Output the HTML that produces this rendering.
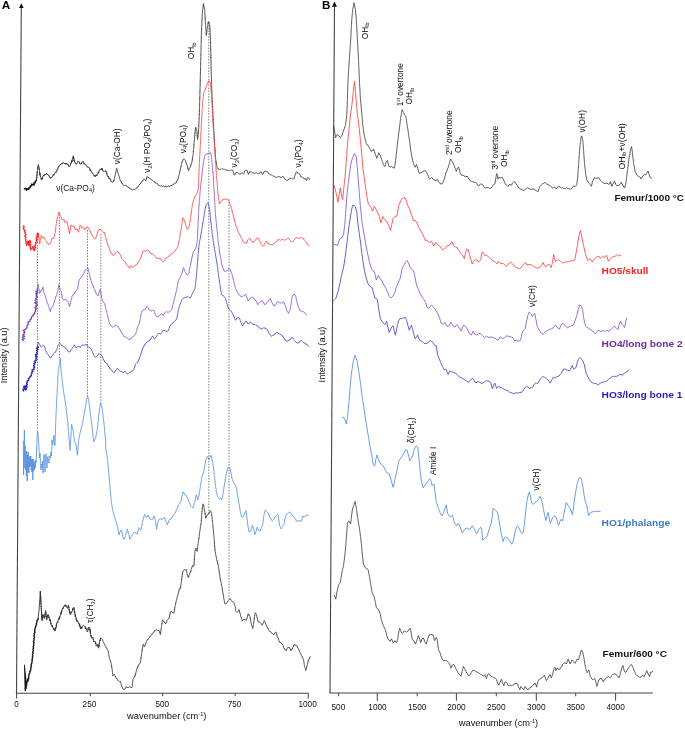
<!DOCTYPE html>
<html><head><meta charset="utf-8"><title>Spectra</title>
<style>html,body{margin:0;padding:0;background:#fff;}body{width:685px;height:729px;overflow:hidden;font-family:"Liberation Sans",sans-serif;}svg{display:block;will-change:transform;}</style>
</head><body>
<svg width="685" height="729" viewBox="0 0 685 729">
<rect width="100%" height="100%" fill="#fff"/>
<line x1="37.5" y1="239.0" x2="37.5" y2="430.0" stroke="#6e6e6e" stroke-width="0.9" stroke-dasharray="1.5 1.35"/>
<line x1="59.4" y1="214.0" x2="59.4" y2="358.0" stroke="#6e6e6e" stroke-width="0.9" stroke-dasharray="1.5 1.35"/>
<line x1="87.5" y1="230.0" x2="87.5" y2="396.0" stroke="#6e6e6e" stroke-width="0.9" stroke-dasharray="1.5 1.35"/>
<line x1="100.9" y1="234.0" x2="100.9" y2="402.0" stroke="#6e6e6e" stroke-width="0.9" stroke-dasharray="1.5 1.35"/>
<line x1="208.8" y1="22.0" x2="208.8" y2="514.0" stroke="#6e6e6e" stroke-width="0.9" stroke-dasharray="1.5 1.35"/>
<line x1="229.0" y1="199.0" x2="229.0" y2="598.0" stroke="#6e6e6e" stroke-width="0.9" stroke-dasharray="1.5 1.35"/>
<line x1="21.3" y1="6" x2="16.5" y2="693.2" stroke="#444" stroke-width="1.1"/>
<path d="M21.35,3.3 L23.7,7.9 L18.9,7.9 Z" fill="#111"/>
<line x1="16" y1="693.2" x2="308.5" y2="693.2" stroke="#444" stroke-width="1.1"/>
<line x1="16.6" y1="693" x2="16.6" y2="698.6" stroke="#444" stroke-width="1"/>
<line x1="90.3" y1="693" x2="90.3" y2="696.2" stroke="#444" stroke-width="1"/>
<line x1="162.6" y1="693" x2="162.6" y2="696.2" stroke="#444" stroke-width="1"/>
<line x1="235.1" y1="693" x2="235.1" y2="696.2" stroke="#444" stroke-width="1"/>
<line x1="308.2" y1="693" x2="308.2" y2="698.6" stroke="#444" stroke-width="1"/>
<line x1="334.5" y1="5" x2="330.0" y2="693" stroke="#444" stroke-width="1.1"/>
<path d="M334.5,1.6 L337.0,6.7 L332.0,6.7 Z" fill="#111"/>
<line x1="329.5" y1="693" x2="652.8" y2="693" stroke="#444" stroke-width="1.1"/>
<line x1="338.6" y1="693" x2="338.6" y2="696.2" stroke="#444" stroke-width="1"/>
<line x1="377.3" y1="693" x2="377.3" y2="700.8" stroke="#444" stroke-width="1"/>
<line x1="417.2" y1="693" x2="417.2" y2="696.2" stroke="#444" stroke-width="1"/>
<line x1="456.4" y1="693" x2="456.4" y2="700.8" stroke="#444" stroke-width="1"/>
<line x1="496.3" y1="693" x2="496.3" y2="696.2" stroke="#444" stroke-width="1"/>
<line x1="536.3" y1="693" x2="536.3" y2="700.8" stroke="#444" stroke-width="1"/>
<line x1="575.7" y1="693" x2="575.7" y2="696.2" stroke="#444" stroke-width="1"/>
<line x1="615.6" y1="693" x2="615.6" y2="700.8" stroke="#444" stroke-width="1"/>
<polyline points="24.4,188.7 26.0,188.6 26.6,190.1 26.7,188.7 28.7,189.3 28.8,188.0 30.1,187.7 30.2,185.9 31.7,185.8 31.8,184.1 34.1,185.0 34.0,183.0 35.3,182.8 35.2,181.4 36.4,180.7" fill="none" stroke="#111" stroke-width="1.50" stroke-linejoin="round" stroke-linecap="round" />
<polyline points="36.4,180.7 36.5,178.9 36.6,179.9 36.7,177.2 36.8,178.1 36.9,175.5 37.0,176.1 37.0,173.9 37.1,174.6 37.2,171.8 37.3,173.0 37.4,170.6 37.5,170.4 37.6,168.8 37.8,169.4 37.9,167.0 38.0,167.6 38.1,165.6 38.3,166.2 38.4,164.6 38.5,165.9 38.7,165.8 38.8,167.7 39.0,167.3 39.1,169.3 39.3,168.6 39.4,170.4 39.5,170.6 39.6,172.8 39.8,172.1 39.9,174.9 40.0,173.4 40.1,175.9 40.3,175.2 40.4,177.0 40.8,176.9 41.1,179.2 41.5,178.7 41.9,179.9 42.2,178.1 42.5,179.0 42.8,176.1 43.1,176.3 43.7,175.1 44.2,175.9 44.8,174.1 45.8,174.7 46.7,173.1 47.3,174.8 47.9,174.2 48.5,175.5 49.0,175.4 49.5,177.5 49.9,177.3 50.4,178.5 51.0,177.2 51.5,177.9 52.1,176.3 52.7,176.3 53.3,174.1 53.8,175.4 54.4,173.5 55.0,173.4 55.5,171.9 56.1,172.6 56.7,170.1 57.2,170.4 57.5,168.8 57.8,169.4 58.1,167.2 58.4,167.4 58.7,166.1 59.4,166.2 60.2,164.5 60.9,164.6 61.6,163.1 62.4,164.1 63.1,162.4 64.2,163.7 65.3,163.1 66.0,164.6 66.7,163.0 67.4,164.6 68.1,164.1 68.9,166.8 69.6,166.1 70.1,166.1 70.6,163.4 71.1,163.9 71.3,162.0 71.6,162.9 71.8,160.2 72.1,161.7 72.3,158.9 72.6,158.8 72.8,157.4 73.1,157.7 73.3,155.8 73.4,157.4 73.6,157.0 73.7,159.1 73.9,158.1 74.0,161.2 74.2,159.9 74.3,161.7 74.9,161.7 75.6,164.0 76.2,163.9 76.9,163.8 77.7,161.3 78.4,161.7 79.1,161.4 79.9,164.0 80.6,163.9 81.3,164.3 82.1,161.7 82.8,161.7 83.3,161.4 83.9,164.2 84.5,163.4 85.0,164.6 85.7,164.3 86.5,166.2 87.2,166.1 87.9,167.7 88.6,167.0 89.3,168.2 89.7,168.1 90.2,170.8 90.6,169.4 91.1,171.9 91.5,171.9 92.0,173.3 92.6,172.8 93.2,174.6 93.7,174.8 94.3,176.5 95.0,175.0 95.6,176.6 96.2,174.7 96.8,175.9 97.4,174.1 97.8,174.1 98.3,171.9 98.7,173.0 99.2,170.3 99.6,170.4 100.2,168.9 100.9,169.6 101.5,168.2 101.9,170.1 102.3,168.5 102.8,171.2 103.2,171.2 104.3,171.5 105.4,170.4 105.8,171.8 106.1,171.2 106.5,173.5 106.9,172.8 107.2,175.8 107.6,175.5 108.0,177.0 108.5,176.1 108.9,178.5 109.4,177.9 109.8,179.2 110.5,178.8 111.1,181.8 111.8,181.5 112.7,182.3 113.6,181.5" fill="none" stroke="#2e2e2e" stroke-width="0.90" stroke-linejoin="round" stroke-linecap="round" />
<polyline points="113.6,181.5 113.8,180.0 114.1,180.3 114.3,178.2 114.5,178.4 114.8,176.4 115.0,176.4 115.3,174.6 115.5,174.2 115.7,172.5 115.9,172.8 116.0,170.8 116.2,170.5 116.4,168.8 116.6,168.3 116.9,168.6 117.2,170.4 117.4,170.6 117.7,172.4 118.0,172.8 118.3,174.0 118.5,174.3 118.8,175.9 119.1,176.1 119.4,177.7 119.7,177.7 119.9,179.7 120.2,180.1 120.7,181.4 121.2,181.3 121.7,183.4 122.1,182.8 122.6,184.7 123.1,185.2 124.1,185.8 125.1,185.0 126.1,185.6 126.8,185.9 127.5,187.1 128.3,186.9 129.0,188.1 129.9,187.9 130.8,189.4 131.7,189.2 132.6,190.0 133.6,189.1 134.5,189.9 135.5,188.8 136.2,188.6 137.0,187.0 137.8,187.3 138.5,185.9 139.1,185.5 139.7,184.2 140.2,184.1 140.8,182.7 141.4,182.3 142.1,180.8 142.9,181.1 143.6,179.4 144.3,179.3 145.1,179.7 145.8,180.8 146.1,179.5 146.4,179.5 146.6,177.5 146.9,177.6 147.2,176.4 147.9,177.6 148.7,177.5 149.4,178.6 150.5,178.7 151.6,180.1 152.7,180.4 153.8,181.5 154.5,181.6 155.2,183.2 156.0,182.7 156.7,183.7 157.7,183.7 158.6,185.6 159.6,185.6 160.5,186.1 161.4,185.3 162.4,186.8 163.3,186.2 164.2,186.8 165.1,185.7 166.0,187.0 166.9,186.6 167.8,186.8 168.7,185.5 169.5,186.7 170.4,185.4 171.3,185.6 172.2,184.9 173.2,185.2 174.1,183.5 175.0,183.7 175.6,182.7 176.2,182.8 176.8,180.8 177.4,180.8 177.7,179.2 177.9,179.4 178.2,177.5 178.5,177.6 178.8,175.5 179.0,175.5 179.3,174.2 179.5,173.9 179.7,171.7 179.9,171.9 180.1,170.1 180.3,170.2 180.5,168.1 180.7,168.1 180.9,166.2 181.1,166.5 181.3,164.6 181.5,164.0 181.8,162.6 182.1,162.7 182.4,161.1 182.7,161.1 183.0,159.4 183.3,158.9 184.2,159.1 185.2,160.4 185.5,160.6 185.8,162.6 186.1,162.6 186.5,164.2 186.8,164.3 187.1,165.5 187.4,166.1 187.7,168.2 187.9,167.9 188.2,169.9 188.5,170.6 189.0,170.2 189.5,168.3 190.0,167.7 190.3,166.4 190.6,166.7 190.9,164.6 191.2,164.8 191.5,163.0 191.8,162.6 192.0,161.1 192.1,161.4 192.3,158.9 192.4,159.2 192.6,157.1 192.7,157.1 192.9,155.4 193.0,155.1 193.2,153.8 193.3,153.2 193.3,151.3 193.4,151.8 193.5,149.9 193.6,149.7 193.7,147.8 193.7,147.9 193.8,146.2 193.9,146.3 193.9,144.0 194.0,144.4 194.1,142.4 194.2,142.4 194.2,140.5 194.3,140.7 194.4,139.2 194.5,138.9 194.6,136.7 194.7,136.8 194.8,135.0 194.9,135.2 195.0,132.9 195.0,133.2 195.1,131.2 195.2,131.4 195.3,129.2 195.4,129.1 195.5,127.3 195.6,127.0 195.9,127.6 196.2,129.7 196.6,129.7 196.9,131.2 197.0,131.6 197.0,133.7 197.1,133.3 197.2,135.5 197.2,135.2 197.3,137.3 197.4,137.3 197.4,139.0 197.5,139.5 197.7,139.0 197.8,137.3 198.0,137.2 198.1,135.2 198.3,134.8 198.4,133.6 198.4,133.5 198.5,131.5 198.5,131.7 198.6,129.4 198.6,129.5 198.7,127.9 198.7,127.9 198.8,125.7 198.8,126.0 198.8,124.0 198.9,124.0 198.9,121.9 199.0,121.7 199.0,120.2 199.1,120.3 199.1,118.3 199.1,118.6 199.2,116.6 199.2,116.5 199.2,114.5 199.3,114.9 199.3,112.9 199.3,112.9 199.4,110.8 199.4,111.2 199.4,109.4 199.5,109.0 199.5,107.5 199.5,107.4 199.6,105.3 199.6,105.0 199.6,103.4 199.6,103.5 199.7,101.8 199.7,101.7 199.7,99.7 199.7,99.9 199.8,97.9 199.8,98.3 199.8,96.3 199.8,96.5 199.9,94.7 199.9,94.6 199.9,92.6 199.9,93.0 199.9,91.1 200.0,91.2 200.0,89.2 200.0,89.3 200.0,87.4 200.1,87.1 200.1,85.4 200.1,85.7 200.1,83.4 200.2,83.6 200.2,81.8 200.2,82.0 200.2,79.9 200.3,80.2 200.3,78.2 200.3,78.1 200.3,76.1 200.3,76.2 200.4,74.3 200.4,74.4 200.4,72.5 200.4,72.9 200.5,71.1 200.5,71.1 200.5,68.8 200.5,69.2 200.6,67.3 200.6,67.2 200.6,65.9 200.6,65.3 200.6,63.5 200.7,63.7 200.7,62.0 200.7,61.8 200.7,60.0 200.8,59.9 200.8,58.1 200.8,58.2 200.8,56.5 200.8,56.1 200.9,54.3 200.9,54.7 200.9,52.8 200.9,52.8 201.0,50.9 201.0,50.9 201.0,49.1 201.0,48.9 201.0,46.9 201.1,47.0 201.1,45.5 201.1,45.3 201.1,43.7 201.2,43.4 201.2,41.7 201.2,41.9 201.2,39.9 201.2,39.9 201.3,37.8 201.3,38.1 201.3,36.1 201.3,36.1 201.4,34.3 201.4,34.4 201.4,33.0 201.4,32.4 201.5,30.6 201.5,30.7 201.6,28.9 201.6,29.1 201.6,27.3 201.7,27.0 201.7,25.2 201.8,25.4 201.8,23.5 201.9,23.5 201.9,21.8 201.9,21.8 202.0,19.9 202.0,20.1 202.1,18.2 202.1,18.3 202.1,16.3 202.2,16.2 202.2,14.3 202.3,14.4 202.3,13.2 202.4,13.0 202.5,10.6 202.6,10.6 202.7,9.1 202.9,8.9 203.0,7.0 203.1,7.1 203.2,5.2 203.3,5.1 203.4,3.6 203.6,5.2 203.8,4.9 204.0,6.9 204.1,6.6 204.3,8.5 204.5,8.7 204.7,9.9 204.8,10.5 204.8,12.2 204.8,12.3 204.9,14.0 204.9,13.9 205.0,15.9 205.0,16.1 205.1,18.0 205.2,17.6 205.2,19.7 205.2,19.5 205.3,21.4 205.3,21.5 205.4,23.3 205.4,23.1 205.5,24.7 205.6,25.3 205.7,27.0 205.7,27.3 205.8,29.1 205.9,29.2 206.0,30.8 206.1,31.0 206.2,33.2 206.2,33.0 206.3,34.9 206.4,35.4 206.5,34.8 206.6,33.2 206.7,33.0 206.9,31.3 207.0,31.4 207.1,29.1 207.2,28.8 207.3,27.5 207.5,27.6 207.7,25.4 207.8,25.4 207.9,23.5 208.1,23.9 208.2,21.8 208.4,21.4 208.8,22.0 209.3,24.1 209.7,24.7 209.7,26.1 209.8,26.0 209.8,27.9 209.9,27.9 209.9,30.0 210.0,29.5 210.0,31.6 210.1,31.4 210.1,33.6 210.1,33.3 210.2,35.3 210.2,35.1 210.3,37.0 210.3,37.1 210.4,38.8 210.4,38.7 210.5,40.6 210.5,41.2 210.5,42.7 210.5,42.4 210.6,44.4 210.6,44.4 210.6,46.4 210.6,46.4 210.7,48.3 210.7,48.2 210.7,50.0 210.7,49.6 210.7,51.7 210.8,51.7 210.8,53.4 210.8,53.5 210.8,55.6 210.9,55.2 210.9,57.5 210.9,57.0 210.9,58.9 210.9,59.0 211.0,60.8 211.0,60.6 211.0,62.8 211.0,62.7 211.1,64.6 211.1,64.5 211.1,66.3 211.1,66.3 211.1,68.1 211.2,68.0 211.2,70.0 211.2,70.2 211.2,71.7 211.3,71.7 211.3,73.8 211.3,74.2 211.3,75.8 211.4,75.5 211.4,77.4 211.4,77.6 211.4,79.0 211.5,79.2 211.5,81.0 211.5,81.1 211.6,82.8 211.6,83.1 211.6,84.7 211.7,84.9 211.7,86.7 211.7,86.4 211.7,88.3 211.8,88.5 211.8,90.0 211.8,90.0 211.9,92.2 211.9,92.0 211.9,93.9 212.0,93.9 212.0,95.6 212.0,95.6 212.0,97.5 212.1,97.6 212.1,98.9 212.2,99.1 212.2,101.5 212.3,101.2 212.3,103.0 212.4,103.2 212.4,104.9 212.5,104.7 212.5,107.0 212.6,106.6 212.6,108.6 212.7,108.7 212.7,110.3 212.8,110.3 212.8,112.5 212.9,112.2 212.9,114.1 213.0,114.3 213.0,116.1 213.1,116.5 213.1,117.8 213.2,117.9 213.2,120.0 213.3,119.5 213.3,121.6 213.4,121.5 213.4,123.5 213.5,123.2 213.5,125.3 213.6,124.9 213.6,126.8 213.7,127.1 213.7,128.9 213.8,129.1 213.8,130.8 213.9,130.8 213.9,132.8 214.0,132.7 214.0,134.5 214.1,134.5 214.1,136.1 214.2,136.3 214.2,137.9 214.3,138.1 214.3,139.8 214.4,139.6 214.4,141.2 214.5,141.7 214.5,143.8 214.6,143.2 214.6,145.4 214.7,145.4 214.8,147.0 214.8,147.1 214.9,149.2 214.9,148.8 215.0,151.0 215.1,150.7 215.1,152.5 215.2,152.5 215.3,154.5 215.3,154.6 215.4,156.3 215.4,156.1 215.5,157.7 215.6,158.0 215.8,159.9 215.9,159.9 216.0,162.0 216.2,161.9 216.3,163.5 216.4,163.4 216.6,165.2 216.7,165.9 217.1,167.4 217.6,167.8 218.0,169.2 218.8,169.2 219.7,170.0 220.5,169.2 221.3,169.2 222.1,168.4 223.3,169.3 224.6,169.2 225.8,170.0 227.1,170.0 228.2,170.7 229.3,170.2 230.4,170.9 231.4,170.1 232.5,170.0 232.8,170.7 233.2,172.4 233.5,172.7 233.9,174.6 234.2,175.0 234.9,174.7 235.5,172.8 236.2,172.5 237.4,172.3 238.6,173.3 240.0,174.4 240.9,173.8 241.8,172.6 242.7,173.5 243.5,173.8 244.1,173.6 244.7,171.2 245.3,170.9 246.2,170.0 247.0,170.3 247.3,170.7 247.7,172.9 248.1,173.0 248.4,174.4 248.8,172.9 249.2,173.0 249.6,171.5 250.6,172.0 251.7,172.0 252.8,172.9 254.0,173.2 255.2,173.2 256.4,172.6 257.5,173.5 258.7,173.8 259.5,173.6 260.2,172.1 261.0,172.0 261.6,172.3 262.2,174.0 262.8,174.4 263.4,173.8 263.9,171.7 264.5,171.5 265.7,171.1 266.9,171.5 267.7,171.6 268.4,173.5 269.2,173.8 270.4,174.8 271.5,175.0 272.7,175.9 273.9,176.1 275.0,177.0 276.2,177.3 277.4,177.4 278.5,176.1 279.3,177.0 280.1,176.7 280.9,177.9 282.0,176.8 283.2,176.7 283.8,177.1 284.4,178.7 285.0,179.0 285.9,180.1 286.7,180.2 287.9,180.1 289.1,179.0 290.2,178.7 291.4,177.9 292.5,178.9 293.7,179.0 294.1,178.6 294.5,176.6 294.9,176.1 295.2,174.3 295.6,174.3 295.9,172.7 296.3,172.0 297.1,172.0 297.8,173.2 298.7,173.1 299.6,174.4 300.1,174.9 300.7,176.7 301.6,176.6 302.5,177.9 303.4,177.8 304.2,179.0 305.4,178.5 306.0,180.0 306.6,180.2 307.0,179.8 307.3,177.9 307.7,177.3 308.9,178.5 309.5,179.6" fill="none" stroke="#3a3a3a" stroke-width="0.85" stroke-linejoin="round" stroke-linecap="round" />
<polyline points="23.2,225.8 24.2,226.6 23.1,227.9 24.1,228.7 23.7,229.8 25.1,230.6 24.3,231.8 25.5,232.7 25.1,233.8 26.1,234.9 24.7,236.2 26.0,237.2 25.3,238.5 25.8,239.6 25.5,240.8 26.8,241.9 25.9,243.2 26.9,244.3 26.6,245.5 26.3,244.2 27.7,243.4 27.3,242.1 28.0,241.1 28.7,242.1 28.2,243.4 29.5,244.2 29.1,245.5 28.8,244.4 30.0,243.5 29.0,242.3 30.6,241.6 29.9,240.4 29.5,241.5 30.8,242.5 29.5,243.6 30.8,244.6 29.7,245.7 30.7,246.7 30.0,247.8 31.1,248.8 30.5,249.9 31.7,248.4 32.8,247.6 33.1,246.2 32.7,247.5 34.3,248.2 33.2,249.7 34.3,250.6 35.1,249.7 34.3,248.5 35.7,247.7 34.5,246.4 35.3,245.5 35.2,244.4 36.2,243.6 35.5,242.4 36.8,241.6 36.4,240.4 37.0,239.4 35.9,238.2 37.5,237.4 36.6,236.2 38.0,235.3 36.8,234.1 37.5,233.1 38.7,234.0 38.0,235.6 38.7,236.7" fill="none" stroke="#ff2a2a" stroke-width="1.30" stroke-linejoin="round" stroke-linecap="round" />
<polyline points="38.7,236.7 38.8,237.1 39.0,239.0 39.1,239.0 39.2,240.8 39.3,240.8 39.5,242.4 39.6,242.7 39.7,244.0 39.9,242.4 40.0,242.5 40.2,240.8 40.4,240.4 40.5,238.8 40.7,238.5 40.9,236.8 41.0,236.5 41.2,235.3 41.7,236.7 42.1,236.8 42.6,238.2 44.1,237.4 44.6,238.7 45.0,239.1 45.5,240.4 46.2,241.0 47.0,242.6 47.8,243.3 48.5,244.7 49.2,243.6 50.0,243.9 50.7,242.6 51.0,242.0 51.3,240.3 51.5,240.3 51.8,238.7 52.1,238.2 53.6,238.9 53.9,238.1 54.2,236.4 54.4,236.3 54.7,234.3 55.0,233.8 55.1,232.7 55.2,232.5 55.3,230.7 55.5,230.7 55.6,228.9 55.7,228.8 55.8,227.3 55.9,227.1 56.0,225.3 56.2,225.0 56.3,223.7 56.4,223.3 56.5,222.1 56.7,221.6 56.9,219.6 57.1,219.5 57.3,217.7 57.5,217.7 57.7,216.3 58.0,216.0 58.3,214.2 58.5,214.0 58.8,212.3 59.1,211.9 59.4,212.4 59.7,214.0 60.0,214.2 60.3,215.6 60.6,216.3 61.0,217.5 61.5,217.8 61.9,219.2 62.3,219.9 63.8,219.2 64.2,219.7 64.5,221.5 64.9,221.4 65.3,222.8 66.0,221.6 66.7,221.4 67.0,221.9 67.3,224.0 67.6,224.2 67.9,225.9 68.2,226.5 68.4,227.8 68.5,227.8 68.7,229.6 68.9,229.6 69.1,231.6 69.2,231.6 69.4,233.3 69.6,233.8 69.8,233.3 69.9,231.3 70.1,231.3 70.3,229.6 70.4,229.3 70.6,227.4 70.8,227.5 70.9,225.5 71.1,225.0 71.8,225.4 72.6,226.5 74.0,225.8 74.3,227.0 74.6,226.9 74.9,228.9 75.2,228.7 75.5,230.1 76.2,229.1 76.9,228.7 77.3,229.2 77.7,230.8 78.0,230.9 78.4,232.3 78.6,231.1 78.8,231.0 79.0,229.1 79.2,229.0 79.5,227.5 79.7,227.3 79.9,225.7 80.1,225.0 80.7,225.6 81.4,227.6 82.0,228.0 83.5,227.2 84.0,227.9 84.5,229.5 85.0,230.1 85.5,229.5 86.1,228.0 86.7,227.9 87.2,226.5 87.9,227.7 88.6,227.9 89.3,229.4 89.7,230.0 90.2,231.5 90.6,231.7 91.1,233.5 91.5,233.8 92.0,235.1 92.6,235.2 93.2,236.8 93.7,237.4 94.7,238.7 95.6,238.9 95.9,238.3 96.2,236.5 96.5,236.3 96.8,234.8 97.1,234.4 97.4,233.1 97.8,232.4 98.2,230.6 98.7,230.7 99.1,229.1 100.0,229.6 101.0,229.4 101.8,230.9 102.5,231.6 103.5,232.5 104.4,232.3 104.6,233.7 104.8,233.7 105.0,235.3 105.2,235.4 105.4,236.7 105.7,237.1 105.9,239.0 106.2,238.9 106.5,240.6 106.8,240.8 107.0,242.6 107.3,242.9 107.6,244.3 107.9,244.3 108.2,246.1 108.5,246.0 108.8,247.3 109.1,247.7 109.5,249.5 109.8,249.6 110.2,251.3 110.5,251.7 111.1,253.2 111.7,253.1 112.2,254.9 112.8,255.3 113.7,255.1 114.6,253.9 115.3,253.6 116.1,252.2 116.8,251.7 117.9,251.8 119.0,253.1 119.7,253.6 120.4,254.6 120.7,255.1 121.0,256.8 121.3,257.0 121.6,258.6 121.9,259.0 123.0,260.2 124.1,260.4 124.8,261.8 125.5,262.6 126.2,264.2 127.0,264.8 127.8,266.0 128.5,266.3 129.0,267.7 129.5,268.5 130.0,267.7 130.4,266.1 130.9,265.5 131.7,266.1 132.4,267.7 133.4,266.7 134.3,266.3 135.4,265.0 136.5,264.8 137.1,263.7 137.6,263.7 138.1,262.0 138.7,261.9 139.1,260.8 139.6,260.3 140.0,259.0 140.5,258.8 140.9,257.5 141.2,257.0 141.5,255.1 141.8,254.9 142.2,253.4 142.5,253.1 142.8,251.3 143.1,250.9 144.2,250.7 145.3,251.7 146.2,250.4 147.0,249.9 147.9,250.2 148.9,250.9 149.4,251.2 150.0,253.0 150.6,252.9 151.1,253.9 152.2,254.0 153.3,254.6 154.0,255.1 154.8,256.3 155.5,256.8 156.2,258.1 157.0,257.7 157.7,259.0 158.8,258.2 159.9,258.2 160.5,258.5 161.0,260.2 161.6,260.4 162.6,261.4 163.5,261.9 164.1,261.2 164.8,259.5 165.4,259.0 166.3,257.7 167.2,257.5 167.9,256.7 168.6,256.9 169.4,255.3 170.1,255.3 170.8,254.2 171.6,254.2 172.3,253.1 173.4,252.6 174.5,251.7 175.2,251.2 175.9,249.6 176.6,248.8 177.0,247.6 177.5,247.4 177.9,246.2 178.1,245.7 178.3,244.1 178.5,243.6 178.7,241.9 178.9,242.1 179.1,240.3 179.3,239.6 179.4,238.4 179.6,238.3 179.7,236.7 179.9,236.3 180.0,234.6 180.2,234.5 180.3,233.2 180.5,232.8 180.6,231.3 180.8,230.9 180.9,229.4 181.1,229.4 181.2,228.0 181.4,227.5 181.5,225.6 181.7,225.6 181.9,223.8 182.0,223.6 182.2,221.9 182.3,221.8 182.5,220.1 182.7,219.8 182.8,218.1 183.0,217.7 183.6,218.3 184.1,220.2 184.7,220.7 184.9,221.9 185.2,222.1 185.4,224.0 185.7,224.2 185.9,225.9 186.2,226.5 186.7,227.9 187.2,228.1 187.7,229.4 188.4,227.9 189.1,227.2 189.2,225.8 189.4,225.5 189.5,223.8 189.7,223.6 189.8,222.0 190.0,222.1 190.2,220.0 190.3,219.8 190.4,218.4 190.6,217.7 190.7,216.4 190.9,216.3 191.0,214.7 191.1,214.4 191.2,212.5 191.4,212.7 191.5,210.8 191.6,210.8 191.7,208.8 191.9,208.7 192.0,207.5 192.2,206.8 192.4,205.4 192.6,205.1 192.8,203.5 192.9,203.2 193.1,201.5 193.3,201.4 193.5,200.2 193.9,199.9 194.3,197.9 194.6,198.0 195.0,196.2 195.4,195.8 196.0,194.5 196.6,194.2 197.2,192.9 197.5,192.2 197.8,190.7 198.0,190.3 198.3,189.0 198.3,188.5 198.4,186.8 198.4,186.5 198.5,184.9 198.5,184.9 198.5,183.1 198.6,182.9 198.6,181.4 198.6,181.0 198.7,179.5 198.7,179.2 198.8,177.6 198.8,177.6 198.8,175.6 198.9,175.6 198.9,173.9 199.0,173.9 199.0,171.9 199.0,171.7 199.1,170.0 199.1,170.1 199.1,168.3 199.2,168.0 199.2,166.5 199.3,166.3 199.3,165.0 199.3,164.5 199.4,162.8 199.4,162.6 199.5,161.0 199.5,161.0 199.6,159.0 199.6,159.0 199.7,157.2 199.7,157.3 199.8,155.5 199.8,155.4 199.8,153.6 199.9,153.5 199.9,152.0 200.0,151.6 200.0,149.9 200.1,149.8 200.1,148.3 200.2,148.2 200.2,146.3 200.3,146.3 200.3,145.0 200.4,144.6 200.4,142.9 200.5,142.7 200.5,140.9 200.6,140.7 200.6,138.7 200.7,138.7 200.7,137.0 200.8,136.7 200.8,135.1 200.8,135.1 200.9,133.1 200.9,133.3 201.0,131.2 201.0,131.1 201.1,129.5 201.1,129.2 201.2,128.0 201.2,127.5 201.3,125.8 201.3,125.7 201.4,123.9 201.4,123.8 201.5,122.1 201.5,122.0 201.6,120.3 201.6,120.2 201.7,118.7 201.8,118.3 201.8,116.7 201.8,116.7 201.9,114.9 201.9,115.1 202.0,113.2 202.0,113.0 202.1,111.6 202.1,111.1 202.2,110.0 202.2,109.4 202.3,107.7 202.3,107.4 202.4,105.9 202.4,105.4 202.5,103.9 202.5,103.7 202.6,102.2 202.7,101.6 202.8,100.1 203.0,99.7 203.1,98.1 203.2,98.2 203.3,96.4 203.4,96.3 203.5,94.6 203.7,94.4 203.8,92.8 203.9,92.3 204.3,91.2 204.7,90.9 205.1,89.3 205.5,89.0 205.8,87.7 206.2,87.4 206.5,85.8 206.9,85.4 207.2,84.1 207.6,83.8 208.0,81.9 208.4,82.0 208.8,80.8 209.7,81.8 210.5,82.4 210.6,83.8 210.6,83.7 210.7,85.4 210.8,85.7 210.9,87.3 210.9,87.3 211.0,89.0 211.1,89.3 211.2,91.1 211.2,90.8 211.3,92.3 211.4,92.8 211.4,94.6 211.5,94.6 211.5,96.6 211.6,96.4 211.6,98.2 211.7,98.6 211.8,100.3 211.8,100.6 211.9,102.2 211.9,102.4 212.0,104.2 212.0,104.4 212.1,105.5 212.1,106.2 212.2,107.6 212.2,108.0 212.3,109.4 212.3,109.8 212.4,111.3 212.4,111.4 212.5,113.3 212.5,113.4 212.6,115.2 212.6,115.0 212.7,116.9 212.7,117.1 212.8,118.5 212.8,118.8 212.9,120.6 212.9,120.5 213.0,122.4 213.0,122.4 213.1,124.0 213.1,124.7 213.2,126.0 213.2,126.3 213.3,127.8 213.3,127.8 213.4,129.5 213.5,129.7 213.5,131.4 213.6,131.6 213.6,133.4 213.7,133.6 213.8,135.1 213.8,135.1 213.9,136.8 213.9,137.3 214.0,138.8 214.0,139.1 214.1,140.7 214.2,140.8 214.2,142.4 214.3,142.8 214.3,144.1 214.4,144.5 214.5,146.2 214.5,146.4 214.6,147.9 214.6,147.9 214.7,149.4 214.8,150.0 214.8,151.8 214.9,151.9 215.0,153.3 215.0,153.7 215.1,155.3 215.1,155.6 215.2,157.2 215.3,157.3 215.3,159.0 215.4,159.1 215.5,160.8 215.5,160.8 215.6,162.7 215.6,162.6 215.7,164.4 215.8,164.6 215.8,166.2 215.9,166.4 216.0,168.4 216.0,168.2 216.1,170.1 216.1,170.0 216.2,172.0 216.3,171.9 216.3,173.8 216.4,174.2 216.5,175.5 216.5,175.6 216.6,177.3 216.7,177.3 216.8,178.9 216.8,179.2 216.9,180.7 217.0,181.0 217.1,182.6 217.1,182.9 217.2,184.4 217.3,184.5 217.3,186.2 217.4,186.4 217.5,188.2 217.6,188.2 217.6,189.8 217.7,189.9 217.8,191.6 217.9,191.6 217.9,193.6 218.0,194.0 218.1,195.5 218.3,195.4 218.4,197.3 218.5,197.5 218.7,199.2 218.8,199.5 218.9,201.1 219.0,201.4 219.2,203.0 219.3,203.8 220.0,203.5 220.6,201.9 221.3,201.4 222.1,200.1 223.0,200.1 223.8,198.9 225.1,199.3 226.3,198.9 227.1,199.8 227.9,199.6 228.7,200.5 229.1,201.2 229.4,202.8 229.8,203.1 230.2,204.5 230.5,204.9 230.9,206.1 231.1,206.6 231.4,208.5 231.6,208.7 231.9,210.6 232.1,210.3 232.4,212.1 232.6,212.6 232.9,214.1 233.1,214.8 233.3,216.1 233.5,216.0 233.8,217.8 234.0,217.8 234.2,219.8 234.4,219.5 234.6,221.2 234.9,221.3 235.1,223.1 235.3,223.6 235.6,225.2 235.9,225.1 236.2,227.1 236.5,227.4 236.8,228.7 237.2,229.2 237.7,231.0 238.1,231.1 238.6,232.8 239.0,233.1 239.4,234.3 239.9,234.3 240.3,236.2 240.8,236.3 241.2,237.4 241.6,238.0 242.0,239.5 242.3,239.8 242.7,241.4 243.1,241.8 243.9,242.5 244.8,242.6 246.3,243.3 246.7,242.1 247.2,241.9 247.6,240.1 248.0,239.6 248.8,238.7 249.5,238.2 250.1,238.6 250.8,240.1 251.4,240.4 252.0,241.7 252.7,241.6 253.3,242.6 253.9,241.4 254.4,241.5 255.0,240.4 255.8,239.8 256.5,238.2 258.2,238.2 258.7,238.6 259.2,240.6 259.7,241.1 260.2,242.5 260.6,242.4 261.1,244.3 261.6,244.7 262.6,246.0 263.5,246.2 263.9,245.6 264.4,244.2 264.9,243.9 265.3,242.6 265.9,242.2 266.4,241.1 266.9,242.5 267.4,242.6 267.9,244.0 269.6,244.0 270.7,244.6 271.8,244.7 272.9,244.4 274.0,243.3 275.1,242.9 276.2,241.8 276.8,241.5 277.5,239.9 278.1,239.6 279.1,239.6 280.1,240.4 281.3,239.7 282.5,239.6 283.4,239.4 284.2,240.4 285.3,239.7 286.4,239.6 287.4,238.4 288.3,238.2 288.9,238.4 289.5,239.9 290.1,240.4 291.2,241.4 292.3,241.8 293.0,241.6 293.8,240.0 294.5,239.6 295.2,238.3 295.9,238.5 296.6,237.4 297.7,238.2 298.8,238.2 299.9,238.2 301.0,237.4 301.9,238.4 302.9,238.2 303.5,239.4 304.1,239.4 304.7,240.4 305.4,241.1 306.1,242.6 306.9,243.1 307.6,244.7 308.8,245.5" fill="none" stroke="#ff4d4d" stroke-width="0.90" stroke-linejoin="round" stroke-linecap="round" />
<polyline points="23.2,340.6 22.2,339.4 24.5,338.5 22.4,337.2 24.5,336.3 22.6,335.0 24.3,334.0 23.8,332.9 25.0,332.1 23.3,330.3 24.9,329.6 26.0,328.5 27.0,327.3 27.1,325.8 28.2,324.1 28.1,322.2 29.8,321.4 30.1,319.6 31.5,318.6 31.5,316.8 33.1,315.9 33.1,314.6 34.7,314.0 34.5,312.6 35.5,311.4 35.3,309.9 36.4,308.9 34.9,307.6 36.5,306.7 35.8,305.5 37.2,304.4 34.8,302.9 36.8,301.9 35.2,300.5 36.4,299.4 35.6,298.2 37.4,297.2 36.1,296.0 37.2,294.9 35.8,293.7 37.9,292.7 35.8,291.4 37.8,290.4 37.2,289.2" fill="none" stroke="#7a40c0" stroke-width="1.30" stroke-linejoin="round" stroke-linecap="round" />
<polyline points="37.2,289.2 37.4,287.7 37.6,287.6 37.7,285.7 37.9,285.6 38.1,284.1 38.3,285.4 38.5,285.7 38.6,287.5 38.8,287.6 39.0,289.2 39.2,290.0 39.4,291.6 39.5,292.1 39.7,293.6 40.0,292.2 40.4,291.9 40.7,290.7 41.9,290.7 42.1,289.4 42.4,289.1 42.6,287.7 42.9,287.0 43.1,287.8 43.2,289.5 43.4,289.8 43.6,291.4 43.9,292.0 44.2,293.6 44.5,293.7 44.8,295.0 45.1,295.3 45.4,297.0 45.7,297.1 46.0,298.9 46.3,299.4 46.6,300.6 46.9,300.9 47.1,302.3 47.4,302.5 47.7,303.8 48.0,304.1 48.3,305.9 48.6,306.2 48.9,307.8 49.2,308.2 49.5,309.6 49.8,309.6 50.1,311.3 50.4,311.8 50.6,311.4 50.8,309.6 51.0,309.4 51.2,308.1 51.4,307.4 52.0,306.4 52.7,306.4 53.3,305.3 53.6,304.6 53.9,302.8 54.1,302.8 54.4,301.1 54.7,300.9 55.0,299.4 55.3,298.9 55.6,297.2 55.9,297.1 56.2,295.6 56.5,295.5 56.8,294.3 57.0,293.5 57.3,291.7 57.5,291.6 57.8,289.9 58.0,289.2 58.2,287.9 58.4,287.8 58.6,286.0 58.8,285.9 59.0,284.5 59.2,285.9 59.4,285.9 59.7,287.6 59.9,287.7 60.1,289.2 60.7,290.0 61.3,291.4 61.4,291.7 61.5,293.6 61.7,293.6 61.8,295.4 61.9,295.4 62.0,297.5 62.2,297.4 62.3,298.7 63.0,299.2 63.8,300.1 65.3,299.4 66.7,300.1 67.5,301.0 68.2,302.3 68.5,302.6 68.8,304.6 69.0,304.4 69.3,306.2 69.6,306.7 69.8,306.2 70.0,304.3 70.2,304.2 70.5,302.4 70.7,302.5 70.9,300.5 71.1,300.1 71.4,298.7 71.7,298.5 72.0,296.5 72.3,295.8 72.9,294.6 73.4,294.9 74.0,293.6 74.5,293.4 75.1,291.7 75.7,291.7 76.2,290.7 77.0,290.0 77.7,288.5 77.9,287.9 78.0,286.3 78.2,286.4 78.3,284.4 78.5,284.4 78.6,282.8 78.8,282.5 78.9,281.0 79.1,280.4 79.8,279.0 80.6,278.2 81.3,276.6 82.0,276.1 82.8,274.8 83.5,274.6 83.8,273.4 84.1,273.2 84.4,271.6 84.7,271.6 85.0,270.2 85.7,269.9 86.4,268.8 87.9,268.0 88.2,268.6 88.5,270.6 88.7,270.5 89.0,272.5 89.3,273.1 89.5,274.3 89.7,274.7 89.9,276.1 90.0,276.3 90.2,277.9 90.4,278.1 90.6,280.1 90.8,280.4 91.2,281.7 91.5,281.8 91.9,283.6 92.3,284.1 92.7,285.5 93.0,285.2 93.4,287.2 93.8,287.1 94.1,288.7 94.5,289.2 94.8,290.5 95.2,290.5 95.5,292.2 95.9,292.1 96.2,293.8 96.6,294.3 97.3,295.6 98.1,295.8 98.4,295.4 98.7,293.7 99.0,293.7 99.3,291.8 99.6,291.4 99.9,289.8 100.3,289.2 100.5,289.8 100.6,291.6 100.8,291.7 101.0,293.7 101.1,293.7 101.3,295.6 101.5,295.6 101.6,297.5 101.8,298.0 102.2,299.4 102.5,299.5 102.8,301.1 103.2,301.6 104.0,303.0 104.7,303.8 104.9,305.2 105.2,305.3 105.4,307.2 105.6,307.4 105.9,309.1 106.1,309.6 106.3,311.1 106.6,311.0 106.8,312.8 107.1,313.3 107.3,315.0 107.6,315.5 107.8,316.9 108.0,316.9 108.2,318.6 108.4,318.6 108.7,320.3 108.9,320.5 109.1,322.2 109.3,322.8 109.9,324.3 110.4,324.4 111.0,326.0 111.6,326.6 112.7,327.1 113.8,326.6 114.7,326.2 115.5,325.1 116.5,325.9 117.4,325.8 118.0,326.8 118.5,327.1 119.0,328.5 119.6,328.8 120.0,330.1 120.5,330.0 120.9,331.7 121.4,331.9 121.8,333.1 122.3,333.4 122.9,335.2 123.5,335.3 124.0,336.8 125.1,336.8 126.2,337.5 127.3,338.0 128.4,339.0 130.0,339.5 130.7,339.4 131.3,337.9 132.0,337.4 132.7,336.5 133.4,336.6 134.1,335.4 134.8,335.1 135.6,334.4 135.8,333.9 136.1,331.8 136.3,331.7 136.6,330.3 136.9,329.9 137.1,328.0 137.4,328.1 137.7,326.7 138.2,326.1 138.7,324.5 139.2,324.2 139.4,322.6 139.6,322.4 139.8,320.5 140.0,320.6 140.2,319.0 140.4,318.5 140.6,316.4 140.8,316.4 141.0,314.6 141.2,313.9 141.6,312.5 141.9,312.1 142.3,310.9 143.1,310.6 143.8,309.3 145.3,309.3 145.8,308.0 146.4,307.6 146.9,306.3 147.9,307.3 148.2,307.9 148.6,309.3 148.9,309.9 150.4,310.4 151.2,310.6 152.0,311.4 152.8,310.4 153.7,309.9 154.5,311.4 154.8,312.6 155.0,312.6 155.2,314.4 155.5,315.0 156.3,316.3 157.1,317.0 158.6,316.5 159.3,315.4 160.1,315.0 160.9,314.1 161.7,313.9 162.4,314.2 163.2,315.5 163.7,314.2 164.2,314.0 164.7,312.9 165.5,312.5 166.3,311.4 167.1,312.1 167.8,312.4 168.6,312.3 169.3,311.4 170.1,311.4 170.9,310.4 171.4,309.8 171.9,308.8 172.2,308.2 172.4,306.4 172.7,306.1 172.9,304.7 173.2,304.1 173.4,302.3 173.7,302.2 173.9,300.7 174.2,300.2 174.4,298.2 174.7,297.9 175.0,296.6 175.2,295.9 175.4,294.4 175.6,294.5 175.9,292.5 176.1,292.4 176.3,291.1 176.5,290.4 176.7,289.0 176.9,288.8 177.1,287.1 177.3,286.7 177.5,285.3 177.7,284.8 177.9,282.8 178.1,282.8 178.3,280.7 178.5,280.2 179.0,279.1 179.6,278.8 180.1,277.7 180.6,277.0 181.1,275.3 181.6,274.6 181.8,273.2 182.1,273.1 182.3,271.7 182.6,271.0 182.9,269.4 183.2,269.3 183.5,267.7 183.9,268.9 184.2,269.2 184.6,270.8 185.0,271.4 185.5,272.5 185.9,272.9 186.4,274.4 186.9,275.0 187.8,274.7 188.6,273.6 188.8,272.9 189.0,271.4 189.2,271.4 189.4,269.6 189.6,269.4 189.8,267.9 190.0,267.5 190.2,266.3 190.4,265.7 190.6,264.0 190.8,264.0 191.0,261.9 191.2,261.9 191.4,260.1 191.6,260.0 191.8,258.0 192.0,257.5 192.2,256.0 192.5,256.1 192.7,254.2 192.9,253.9 193.2,252.3 193.4,251.7 193.9,250.6 194.5,250.7 195.1,249.1 195.6,248.8 195.8,247.4 196.1,247.4 196.3,245.3 196.6,245.3 196.8,243.4 197.1,242.9 197.2,241.5 197.2,241.4 197.3,239.5 197.4,239.3 197.4,237.6 197.5,237.2 197.6,235.4 197.6,235.3 197.7,234.0 197.7,233.6 197.8,231.7 197.8,231.6 197.8,230.0 197.9,230.0 197.9,228.3 197.9,228.2 198.0,226.5 198.0,226.3 198.0,224.4 198.1,224.4 198.1,222.7 198.1,222.5 198.2,220.9 198.2,221.0 198.2,219.0 198.3,219.2 198.3,217.2 198.3,217.1 198.4,215.5 198.4,215.0 198.5,213.5 198.5,213.5 198.6,211.8 198.7,211.7 198.7,209.9 198.8,209.7 198.8,207.9 198.9,207.8 199.0,206.0 199.0,206.0 199.1,204.4 199.2,204.0 199.2,202.3 199.3,202.3 199.3,200.4 199.4,200.0 199.5,198.7 199.6,198.5 199.7,197.0 199.8,196.5 199.8,194.9 199.9,194.7 200.0,193.1 200.1,192.8 200.2,191.3 200.3,190.9 200.4,189.5 200.5,189.2 200.5,187.3 200.6,187.2 200.7,185.6 200.8,185.0 200.9,183.6 201.0,183.6 201.1,181.8 201.2,181.6 201.3,180.0 201.4,179.7 201.5,178.0 201.7,177.8 201.8,176.3 201.9,175.9 202.0,174.1 202.1,174.3 202.2,172.5 202.3,172.2 202.4,170.7 202.5,170.0 202.6,168.6 202.7,168.7 202.9,166.7 203.0,166.7 203.1,165.1 203.2,164.8 203.3,163.1 203.4,163.3 203.6,161.3 203.7,161.2 203.8,160.0 204.0,159.5 204.3,157.7 204.5,157.6 204.8,156.1 205.0,155.5 206.0,154.2 207.0,154.0 208.0,153.2 209.0,153.3 210.6,152.7 210.9,154.3 211.1,154.3 211.4,156.0 211.5,156.6 211.6,158.3 211.7,158.5 211.7,160.1 211.8,160.3 211.9,162.0 212.0,162.2 212.1,163.8 212.2,164.0 212.2,165.4 212.3,165.7 212.4,167.2 212.5,167.5 212.6,169.1 212.7,169.1 212.8,171.0 212.8,171.2 212.9,173.0 213.0,172.7 213.1,174.2 213.2,174.8 213.2,176.2 213.3,176.5 213.3,178.4 213.4,178.3 213.4,180.2 213.5,180.1 213.5,181.8 213.6,182.0 213.7,183.7 213.7,184.1 213.8,185.6 213.8,185.6 213.9,187.3 213.9,187.5 214.0,189.2 214.0,189.4 214.1,191.2 214.2,191.4 214.2,192.9 214.3,192.9 214.3,194.6 214.4,195.1 214.4,196.6 214.5,196.9 214.5,198.5 214.6,199.0 214.7,200.3 214.7,200.6 214.8,201.9 214.8,202.3 214.8,204.0 214.9,204.2 214.9,205.7 215.0,205.7 215.1,207.5 215.1,207.8 215.2,209.5 215.2,209.6 215.2,211.0 215.3,211.4 215.3,212.9 215.4,213.5 215.5,214.9 215.6,215.0 215.7,216.7 215.8,216.6 215.8,218.4 215.9,218.4 216.0,220.2 216.1,220.2 216.2,221.9 216.3,222.1 216.4,223.7 216.5,223.9 216.5,225.8 216.6,225.6 216.7,227.5 216.8,227.4 216.9,228.8 217.0,229.2 217.1,231.1 217.2,231.2 217.3,232.8 217.4,232.9 217.5,234.6 217.6,234.6 217.6,236.2 217.7,236.5 217.8,238.0 217.9,238.3 218.0,239.9 218.1,240.2 218.2,241.7 218.3,242.3 218.4,243.5 218.6,243.7 218.7,245.5 218.8,245.5 218.9,247.1 219.1,247.2 219.2,248.9 219.3,248.9 219.4,250.9 219.6,250.9 219.7,252.7 219.8,252.5 219.9,254.4 220.1,254.4 220.2,255.8 220.4,256.4 220.6,258.0 220.8,258.2 221.0,259.9 221.1,260.1 221.3,262.1 221.5,262.2 221.7,263.7 221.9,264.0 222.1,265.4 222.4,266.0 222.7,267.8 223.1,268.0 223.4,269.6 223.7,269.9 224.0,271.2 225.0,271.0 226.0,271.2 226.9,270.5 227.9,270.2 228.9,269.2 229.8,268.8 230.2,269.2 230.6,271.0 230.9,271.0 231.3,272.8 231.7,273.1 231.9,274.3 232.2,274.8 232.4,276.3 232.7,276.5 232.9,278.4 233.2,278.3 233.4,280.2 233.7,280.8 233.9,282.3 234.2,282.2 234.4,283.9 234.6,284.1 234.9,286.0 235.1,286.1 235.4,288.1 235.6,288.5 236.1,289.9 236.6,290.1 237.0,291.6 237.5,292.3 238.1,293.8 238.8,294.0 239.4,295.2 240.4,295.6 241.3,297.1 242.3,296.1 243.3,296.2 244.1,295.3 245.0,295.2 245.8,294.2 246.1,295.5 246.5,295.9 246.8,297.5 247.1,297.6 247.4,299.3 247.8,299.5 248.1,301.0 248.7,300.0 249.2,300.0 249.8,298.4 250.4,298.1 251.4,297.4 252.3,297.1 252.9,297.4 253.6,298.9 254.2,298.8 254.8,300.0 256.1,300.7 256.5,302.3 256.9,302.2 257.3,304.0 257.7,304.6 258.4,304.3 259.2,302.7 259.9,302.4 261.0,301.1 262.1,301.0 262.7,301.2 263.2,302.9 263.8,302.6 264.3,304.4 264.9,304.6 265.6,304.4 266.4,302.8 267.1,302.4 267.7,301.4 268.3,301.3 269.0,299.6 269.6,299.6 270.2,298.5 270.6,299.8 270.9,299.9 271.3,301.7 271.6,301.5 272.0,302.9 272.6,303.3 273.1,305.0 273.6,305.1 274.2,306.2 274.8,305.0 275.3,305.2 275.9,304.0 276.4,303.5 277.0,301.8 277.5,301.3 278.4,301.8 279.2,302.9 280.3,302.6 281.4,303.5 282.1,302.7 282.8,302.7 283.5,301.8 283.9,303.2 284.4,303.0 284.8,304.5 285.2,305.1 285.5,306.3 285.7,306.6 286.0,308.4 286.3,308.4 286.5,309.9 286.8,310.6 287.4,311.9 287.9,311.9 288.5,313.4 288.9,312.1 289.3,311.9 289.7,310.2 290.1,309.5 290.3,308.2 290.4,308.1 290.6,306.4 290.7,306.1 290.9,304.4 291.0,304.3 291.2,302.9 291.4,302.3 291.5,300.8 291.7,300.6 291.8,298.9 292.0,298.5 292.1,296.8 292.3,296.4 292.9,295.3 293.4,295.3 294.0,293.9 294.8,294.9 295.6,295.3 295.8,296.5 296.0,296.8 296.1,298.2 296.3,298.6 296.5,300.3 296.7,300.7 296.9,302.2 297.2,302.3 297.4,304.0 297.7,304.2 297.9,305.8 298.2,305.8 298.4,307.3 298.8,307.7 299.2,309.2 299.6,309.2 300.0,310.6 301.1,310.9 302.2,311.7 303.2,311.6 304.2,312.3 304.9,312.5 305.5,313.9 306.6,315.2" fill="none" stroke="#9060d0" stroke-width="0.90" stroke-linejoin="round" stroke-linecap="round" />
<polyline points="23.6,390.9 22.9,389.5 25.0,388.7 23.4,387.1 24.6,386.1 25.8,387.1 24.7,388.8 25.6,389.9 26.6,389.0 25.0,387.4 27.3,386.8 26.0,385.3 27.4,384.5 26.5,383.1 27.5,382.2 27.1,380.8 28.9,380.3 28.3,378.8 29.3,378.0 30.4,376.5 31.4,375.7 31.1,374.3 32.0,373.5 31.7,372.2 33.1,371.4 32.0,369.9 34.1,369.3 33.6,368.0 34.7,367.1 33.6,365.6 34.7,364.7 33.9,363.4 35.7,362.6 34.4,361.2 36.3,360.4 35.8,359.2 36.7,358.2 35.6,356.9 36.7,356.0 35.5,354.7 37.4,353.8 36.7,352.6 37.5,351.6 36.5,350.4 38.1,349.5 36.5,348.2 38.4,347.3 37.5,346.1" fill="none" stroke="#2a2ab8" stroke-width="1.40" stroke-linejoin="round" stroke-linecap="round" />
<polyline points="37.5,346.1 37.7,344.7 37.9,344.6 38.1,342.7 38.3,342.2 38.8,342.9 39.4,344.4 40.4,345.5 40.8,346.7 41.3,347.2 42.4,346.1 43.5,345.0 44.0,346.0 44.6,346.6 44.9,347.9 45.2,348.1 45.4,349.8 45.7,350.5 46.2,351.9 46.8,352.6 47.3,353.7 47.9,354.3 48.5,355.5 49.0,355.8 49.6,357.0 50.6,358.1 51.2,357.4 51.7,355.9 52.8,355.4 53.3,354.2 53.9,353.7 54.8,352.4 55.6,352.1 56.2,350.5 56.7,349.9 57.0,348.6 57.2,348.5 57.5,347.0 57.7,346.6 58.0,345.5 58.7,344.8 59.4,343.3 60.5,343.9 61.6,345.0 62.5,346.1 63.3,346.1 64.1,347.2 64.9,347.2 65.5,348.4 66.0,348.4 66.6,349.4 67.1,349.7 67.7,351.1 68.2,351.6 69.8,352.1 70.4,350.9 70.9,350.6 71.5,349.2 72.2,348.4 72.9,347.0 73.7,346.3 74.4,344.8 74.9,346.3 75.3,346.4 75.8,347.7 77.3,347.0 78.8,346.3 79.5,346.6 80.2,347.7 81.0,346.3 81.7,345.5 83.1,344.8 84.6,345.5 85.3,344.5 86.1,344.1 86.8,344.8 87.5,346.3 88.2,346.6 89.0,347.7 90.1,348.0 91.2,349.2 91.7,349.6 92.1,351.4 92.6,352.1 93.0,353.6 93.3,353.7 93.7,355.3 94.1,355.8 94.8,356.9 95.5,357.2 96.2,356.8 97.0,355.8 97.8,355.3 98.5,353.6 99.9,354.3 101.4,355.0 101.9,356.5 102.3,356.4 102.8,358.0 103.2,358.6 103.7,360.1 104.1,360.0 104.6,362.0 105.0,362.3 106.5,363.1 107.0,363.6 107.6,365.3 108.2,365.3 108.7,366.7 109.2,366.8 109.8,368.7 110.4,368.4 110.9,369.6 111.6,370.0 112.4,371.6 113.1,371.8 114.5,372.6 115.0,371.1 115.5,371.1 116.0,369.6 116.7,369.4 117.4,368.2 118.2,369.2 118.9,369.6 119.7,370.8 120.4,371.1 121.8,371.8 123.3,372.6 124.0,372.4 124.7,371.1 125.5,372.2 126.2,372.6 127.0,373.6 127.7,374.0 128.4,373.6 129.1,372.6 130.2,372.4 131.3,371.1 132.4,371.0 133.5,370.4 133.8,369.9 134.1,368.2 134.4,368.0 134.8,366.2 135.1,366.2 135.4,364.3 135.7,363.8 136.8,362.7 137.9,362.3 138.3,360.9 138.6,360.9 139.0,358.8 139.4,358.8 139.7,357.0 140.1,356.5 140.4,355.3 140.7,355.0 140.9,353.3 141.2,353.1 141.5,351.4 141.8,351.6 142.0,349.9 142.3,349.2 142.7,347.9 143.2,347.8 143.6,346.3 144.1,346.3 144.5,344.8 145.2,344.6 145.9,342.9 146.6,342.6 147.3,341.4 148.1,341.6 148.8,340.4 150.4,340.0 150.8,338.7 151.1,338.6 151.5,337.4 152.0,337.2 152.5,335.9 153.0,337.1 153.5,337.4 154.0,338.7 154.5,339.0 155.3,338.2 156.1,336.9 156.6,336.6 157.1,334.9 157.6,334.4 158.3,333.5 159.1,333.4 159.9,333.5 160.7,334.4 161.4,332.9 162.2,332.3 162.9,330.8 163.7,330.3 165.3,330.8 166.8,331.3 168.3,330.8 168.6,330.3 169.0,328.8 169.3,328.2 169.7,326.8 170.0,326.7 170.4,325.2 171.2,324.9 171.9,323.6 172.7,323.4 173.4,322.1 174.2,321.6 175.0,320.6 175.8,320.3 176.5,319.0 176.8,318.5 177.0,316.6 177.2,316.3 177.5,315.0 177.7,314.2 177.9,312.5 178.1,312.3 178.3,310.4 178.5,309.9 178.8,308.5 179.1,308.2 179.3,306.3 179.6,305.8 179.9,304.4 180.3,304.1 180.6,302.7 181.1,302.1 181.6,300.4 182.1,299.6 182.8,298.6 183.6,298.1 185.2,297.6 186.7,297.1 188.2,296.6 189.0,297.6 189.8,298.1 190.8,297.6 191.1,296.0 191.5,295.8 191.8,294.5 192.3,294.0 192.9,292.1 193.4,291.5 193.9,290.2 194.4,289.9 194.9,288.4 195.0,288.0 195.2,286.3 195.3,286.2 195.5,284.5 195.6,283.8 195.7,282.6 195.8,282.1 195.9,280.5 196.0,280.4 196.1,278.4 196.2,278.3 196.3,276.6 196.4,276.5 196.5,274.5 196.6,274.0 196.7,272.7 196.7,272.5 196.8,270.8 196.9,270.7 196.9,269.0 197.0,268.8 197.1,267.2 197.2,267.3 197.2,265.7 197.3,265.0 197.4,263.5 197.4,263.6 197.5,261.8 197.6,261.6 197.7,259.9 197.7,259.6 197.8,258.0 197.9,257.9 198.0,256.3 198.0,256.0 198.1,254.6 198.2,254.0 198.3,252.4 198.4,252.3 198.5,250.8 198.6,250.3 198.7,248.7 198.7,248.9 198.8,247.1 198.9,247.0 199.0,245.3 199.1,245.2 199.2,243.5 199.3,242.9 199.5,241.4 199.7,241.2 199.9,239.8 200.1,239.3 200.3,238.0 200.5,237.3 200.6,235.8 200.8,235.8 200.9,234.0 201.1,233.8 201.3,232.0 201.4,231.9 201.6,230.2 201.7,230.0 201.9,228.8 202.1,228.3 202.2,226.6 202.4,226.4 202.5,224.7 202.7,224.7 202.8,223.0 203.0,223.0 203.1,221.5 203.3,221.0 203.4,219.4 203.6,219.0 203.7,217.7 203.9,217.5 204.0,215.9 204.1,215.8 204.2,214.1 204.4,214.0 204.5,212.3 204.6,212.2 204.7,210.4 204.9,210.1 205.0,209.0 205.3,208.4 205.6,206.8 205.8,206.9 206.1,204.9 206.4,204.6 207.2,203.5 208.1,202.9 208.3,203.5 208.5,205.3 208.7,205.5 209.0,207.1 209.2,207.2 209.4,209.2 209.6,209.6 209.7,211.0 209.8,210.9 209.9,212.6 210.0,213.0 210.1,214.4 210.2,214.8 210.3,216.3 210.4,216.5 210.4,218.0 210.5,218.2 210.6,219.9 210.7,220.3 210.8,222.0 210.9,221.8 211.0,223.7 211.1,223.7 211.2,225.0 211.3,225.6 211.4,227.2 211.5,227.2 211.6,228.9 211.8,229.3 211.9,230.7 212.0,231.1 212.1,232.6 212.2,232.8 212.3,234.3 212.4,234.6 212.5,236.4 212.7,236.4 212.8,238.0 212.9,238.4 213.0,239.8 213.1,240.4 213.3,241.7 213.4,241.9 213.6,243.7 213.7,243.5 213.9,245.4 214.0,245.5 214.2,247.2 214.3,247.0 214.5,248.7 214.6,248.8 214.8,250.7 214.9,250.7 215.1,252.3 215.2,252.5 215.4,253.8 215.5,254.3 215.7,256.0 215.8,256.1 216.0,257.7 216.1,257.8 216.3,259.7 216.4,259.5 216.6,261.3 216.7,261.3 216.9,263.2 217.0,263.2 217.2,265.0 217.3,265.4 217.4,266.7 217.6,267.0 217.7,268.5 217.8,268.7 217.9,270.5 218.1,270.8 218.2,272.6 218.3,272.6 218.4,274.4 218.6,274.6 218.7,276.5 218.8,276.9 218.9,278.4 219.1,278.5 219.2,280.3 219.4,280.1 219.5,282.0 219.6,282.2 219.8,283.9 219.9,284.1 220.1,286.1 220.2,286.5 220.4,288.0 220.5,287.9 220.7,289.7 220.8,290.0 221.0,291.6 221.2,291.7 221.3,293.6 221.5,294.2 222.2,295.3 222.8,295.1 223.5,296.2 224.4,296.7 225.4,298.1 225.7,298.5 225.9,300.3 226.2,300.7 226.4,302.1 226.7,302.3 226.9,303.8 227.2,304.2 227.5,306.3 227.9,306.3 228.2,308.1 228.5,308.7 229.3,309.5 230.0,309.6 230.8,310.6 231.4,311.2 231.9,312.8 232.5,313.2 233.1,314.4 233.5,315.0 233.8,316.6 234.2,316.4 234.5,318.0 234.9,318.2 235.2,319.6 235.6,320.2 236.2,319.7 236.9,317.8 237.5,317.3 238.4,317.4 239.4,318.3 239.8,318.8 240.2,320.6 240.5,320.9 240.9,322.4 241.3,323.1 241.8,324.6 242.2,324.7 242.7,326.0 243.2,324.8 243.7,324.4 244.2,323.1 244.9,323.0 245.5,321.3 246.2,321.2 246.8,321.8 247.5,323.3 248.1,324.0 248.9,323.9 249.6,322.3 250.4,322.1 251.2,322.5 252.1,323.8 252.9,324.0 253.9,324.4 255.0,324.3 256.1,325.4 257.2,325.4 257.9,326.7 258.7,326.9 259.4,328.2 260.5,328.3 261.6,329.3 262.3,328.2 263.1,328.4 263.8,327.6 264.9,328.3 266.0,328.2 266.8,329.5 267.6,329.8 268.0,331.3 268.5,331.5 268.9,333.2 269.3,333.7 270.0,334.9 270.8,335.2 271.5,336.4 272.6,335.5 273.7,335.3 274.4,334.1 275.0,334.4 275.7,333.0 276.4,332.6 277.5,332.6 278.6,333.7 279.5,333.8 280.5,334.6 281.4,334.8 282.1,336.2 282.8,336.1 283.5,337.5 284.1,337.8 284.6,339.4 285.1,339.5 285.7,340.8 286.8,340.9 287.9,341.4 288.6,340.1 289.4,340.2 290.1,339.2 290.8,339.0 291.6,337.6 292.3,337.5 293.0,338.2 293.8,339.7 294.5,340.3 295.2,341.4 296.0,341.9 296.7,343.0 297.8,342.7 298.9,343.0 299.6,341.8 300.2,341.6 300.9,340.3 301.9,341.3 302.8,341.9 303.9,342.9 305.0,343.0 305.7,344.1 306.5,343.9 307.2,345.2 308.0,345.4 308.8,346.3" fill="none" stroke="#5050cc" stroke-width="0.90" stroke-linejoin="round" stroke-linecap="round" />
<polyline points="23.3,441.0 23.6,475.0 24.0,452.0 24.4,430.0 24.8,468.0 25.2,446.0 25.6,470.0 26.0,452.0 26.4,476.0 26.8,451.0 27.2,481.0 27.6,455.0 28.0,472.0 28.4,452.0 28.8,473.0 29.2,457.0 29.6,467.0 30.0,456.0 30.4,466.0 30.8,456.0 31.2,470.0 31.6,459.0 32.0,472.0 32.4,459.0 32.8,480.0 33.2,459.0 33.6,471.0 34.0,461.0 34.4,470.0 34.8,463.0 35.2,468.0 35.6,460.0 36.0,463.0 36.4,456.0 36.7,447.8" fill="none" stroke="#5b93dc" stroke-width="0.90" stroke-linejoin="round" stroke-linecap="round" />
<polyline points="36.7,447.8 36.7,446.5 36.8,446.4 36.8,444.7 36.8,444.5 36.9,442.9 36.9,442.6 37.0,441.2 37.0,440.8 37.0,439.2 37.1,439.1 37.1,437.6 37.1,437.1 37.2,435.7 37.2,435.4 37.3,433.9 37.3,433.5 37.3,432.2 37.4,431.8 37.4,430.6 37.7,432.0 38.0,433.0 38.1,434.1 38.1,434.6 38.2,435.9 38.3,436.3 38.3,437.9 38.4,438.3 38.5,439.7 38.5,440.0 38.6,441.7 38.7,441.8 38.7,443.3 38.8,444.0 38.8,445.2 38.9,445.6 38.9,447.1 39.0,447.6 39.0,448.8 39.1,449.3 39.1,450.9 39.2,451.0 39.2,452.6 39.3,453.2 39.3,454.7 39.4,454.9 39.4,456.5 39.5,456.8 39.5,458.0 39.6,456.8 39.7,456.4 39.8,454.7 39.9,454.2 40.0,453.0 40.0,454.1 40.1,454.6 40.1,456.0 40.2,456.2 40.2,457.7 40.3,458.0 40.4,459.6 40.4,460.0 40.5,461.5 40.5,462.0 40.6,463.3 40.6,463.6 40.7,465.2 40.8,465.7 40.8,467.3 40.9,467.8 40.9,469.2 41.0,470.0 41.1,469.2 41.2,467.8 41.2,467.2 41.3,465.7 41.4,465.3 41.5,464.0 41.6,465.4 41.8,465.6 41.9,467.4 42.0,468.0 42.1,467.2 42.1,465.6 42.2,465.4 42.3,463.8 42.4,463.3 42.4,461.6 42.5,461.0 42.5,461.5 42.6,463.1 42.6,463.3 42.7,465.1 42.7,465.3 42.7,466.9 42.8,467.3 42.8,468.7 42.8,468.9 42.9,470.5 42.9,471.0 43.0,472.4 43.0,473.0 43.0,472.5 43.1,470.8 43.1,470.5 43.1,469.0 43.2,468.7 43.2,467.1 43.2,466.7 43.3,465.1 43.3,465.0 43.4,463.3 43.4,463.1 43.4,461.6 43.5,461.3 43.5,460.0 43.6,459.3 43.7,457.8 43.8,457.6 43.8,456.1 43.9,455.8 44.0,454.5 44.1,455.7 44.1,456.2 44.2,457.7 44.2,458.1 44.3,459.4 44.3,459.8 44.4,461.5 44.4,461.7 44.5,463.0 44.5,463.7 44.6,465.1 44.6,465.5 44.7,466.8 44.8,467.2 44.8,468.8 44.9,468.9 44.9,470.4 45.0,470.7 45.0,472.0 45.0,470.8 45.1,470.4 45.1,468.9 45.1,468.7 45.2,467.0 45.2,466.7 45.2,465.2 45.3,464.8 45.3,463.3 45.3,463.1 45.4,461.3 45.4,461.1 45.4,459.5 45.5,459.2 45.5,458.0 45.6,457.1 45.8,455.5 45.9,454.9 46.0,453.6 46.1,455.0 46.1,455.3 46.2,456.7 46.2,457.0 46.3,458.5 46.4,458.9 46.4,460.5 46.5,461.0 46.6,462.4 46.6,462.7 46.7,464.3 46.8,464.7 46.9,466.4 46.9,466.7 47.0,468.0 47.0,466.7 47.1,466.4 47.1,465.0 47.2,464.8 47.2,463.0 47.2,462.9 47.3,461.3 47.3,461.1 47.4,459.4 47.4,459.0 47.5,457.5 47.5,457.0 48.0,456.5 48.1,457.8 48.2,458.0 48.2,459.7 48.3,459.9 48.4,461.5 48.5,462.0 49.0,463.0 49.1,461.7 49.1,461.4 49.2,459.8 49.3,459.3 49.4,457.6 49.4,457.3 49.5,456.0 50.0,455.5 50.2,456.4 50.5,458.0 50.6,456.8 50.7,456.3 50.8,454.7 50.8,454.4 50.9,452.6 51.0,452.0 51.1,452.8 51.2,454.4 51.4,454.6 51.5,456.0 51.5,454.8 51.6,454.4 51.6,452.8 51.6,452.4 51.6,451.0 51.7,450.7 51.7,449.1 51.7,448.9 51.8,447.3 51.8,446.9 51.8,445.3 51.9,445.2 51.9,443.6 51.9,443.2 51.9,441.5 52.0,441.4 52.0,440.1 52.1,441.2 52.2,441.9 52.3,443.4 52.4,443.7 52.5,445.0 52.8,443.6 53.0,443.0 53.1,441.7 53.2,441.2 53.4,439.6 53.5,439.0 53.6,437.6 53.8,437.5 53.9,435.9 54.0,435.3 54.0,436.1 54.1,437.6 54.1,437.9 54.2,439.6 54.2,440.0 54.3,441.5 54.3,441.8 54.4,443.4 54.4,443.8 54.5,445.1 54.5,445.9 55.0,445.0 55.0,443.7 55.1,443.4 55.1,442.0 55.1,441.8 55.1,440.1 55.2,440.0 55.2,438.4 55.2,438.0 55.3,436.5 55.3,436.2 55.3,434.7 55.3,434.4 55.4,432.9 55.4,432.8 55.4,431.3 55.4,431.0 55.5,429.3 55.5,429.2 55.5,427.6 55.6,427.3 55.6,425.8 55.6,425.4 55.6,424.0 55.7,423.7 55.7,422.5 55.7,421.9 55.8,420.4 55.8,420.0 55.9,418.5 55.9,418.2 55.9,416.8 56.0,416.2 56.0,414.7 56.1,414.6 56.1,413.1 56.1,412.7 56.2,411.2 56.2,410.8 56.3,409.4 56.3,408.9 56.4,407.3 56.4,407.0 56.4,405.7 56.5,405.2 56.5,403.9 56.6,403.3 56.6,401.9 56.6,401.7 56.7,400.1 56.7,399.8 56.8,398.1 56.8,397.6 56.9,396.4 56.9,395.9 57.0,394.5 57.0,394.2 57.1,392.6 57.1,392.2 57.2,390.8 57.2,390.5 57.3,389.0 57.3,388.7 57.4,387.3 57.4,386.6 57.5,385.2 57.5,385.0 57.6,383.4 57.6,383.1 57.7,381.6 57.7,381.2 57.8,379.7 57.8,379.4 57.9,377.9 57.9,377.6 58.0,376.0 58.0,375.6 58.1,374.1 58.1,373.7 58.2,372.6 58.3,372.1 58.5,370.3 58.6,369.9 58.7,368.6 58.9,368.1 59.0,366.6 59.1,366.2 59.2,364.7 59.4,364.3 59.5,363.0 59.7,362.4 59.8,360.8 60.0,360.5 60.1,358.8 60.3,358.2 60.4,359.0 60.4,360.3 60.5,360.9 60.5,362.3 60.6,362.8 60.7,364.2 60.7,364.6 60.8,366.1 60.9,366.7 60.9,368.3 61.0,368.4 61.0,370.1 61.1,370.7 61.2,371.9 61.3,372.4 61.4,373.9 61.5,374.1 61.6,375.7 61.7,376.2 61.9,377.6 62.0,378.2 62.1,379.6 62.2,380.0 62.3,381.4 62.4,381.9 62.5,383.6 62.6,384.1 62.7,385.3 62.9,385.8 63.0,387.2 63.1,387.8 63.2,389.2 63.4,389.6 63.5,391.3 63.6,391.4 63.8,393.1 63.9,393.7 64.1,395.1 64.2,395.2 64.4,396.8 64.6,397.1 64.8,398.9 65.0,399.2 65.1,400.6 65.3,401.4 65.4,402.7 65.5,403.0 65.6,404.6 65.7,404.9 65.8,406.5 66.0,406.9 66.1,408.6 66.2,408.6 66.3,410.3 66.4,411.0 66.5,412.3 66.6,412.6 66.8,414.2 66.9,414.5 67.0,416.0 67.1,416.5 67.2,417.9 67.3,418.2 67.5,419.8 67.6,420.3 67.7,421.9 67.8,422.5 67.9,423.7 67.9,424.0 68.0,425.6 68.1,426.0 68.1,427.5 68.2,427.7 68.3,429.2 68.3,429.3 68.4,430.9 68.5,431.3 68.6,432.7 68.6,433.1 68.7,434.7 68.8,434.9 68.8,436.6 68.9,436.7 69.0,438.2 69.0,438.6 69.1,439.8 69.2,440.3 69.3,442.0 69.4,442.4 69.5,444.0 69.6,444.3 69.6,445.8 69.7,446.2 69.8,447.7 69.9,448.1 70.0,449.7 70.1,450.4 70.2,449.6 70.2,448.2 70.3,447.9 70.3,446.3 70.4,446.2 70.4,444.5 70.5,444.2 70.5,442.8 70.6,442.2 70.6,440.8 70.7,440.5 70.7,439.1 70.8,438.6 70.8,437.3 70.9,436.8 71.0,435.4 71.0,435.0 71.1,433.4 71.1,433.0 71.2,431.7 71.2,431.2 71.3,429.7 71.3,429.5 71.4,427.9 71.4,427.5 71.5,426.1 71.5,425.7 71.6,424.5 71.8,425.7 72.1,426.2 72.3,427.5 72.5,427.9 72.8,429.7 73.0,430.2 73.1,431.4 73.2,431.9 73.4,433.3 73.5,433.6 73.6,435.4 73.8,435.5 73.9,437.2 74.0,437.6 74.1,439.0 74.2,439.4 74.4,441.1 74.5,441.7 75.2,442.9 76.0,443.6 76.1,444.9 76.2,445.1 76.3,446.7 76.5,447.2 76.6,448.9 76.7,449.0 76.8,450.7 76.9,451.0 77.1,452.6 77.2,452.9 77.3,454.6 77.4,455.2 77.5,454.5 77.6,453.1 77.6,452.8 77.7,451.4 77.8,451.0 77.9,449.6 77.9,449.3 78.0,447.8 78.1,447.4 78.2,446.0 78.2,445.5 78.3,444.1 78.4,443.6 78.5,442.3 78.5,441.9 78.6,440.3 78.7,439.8 78.9,438.6 79.1,438.3 79.3,436.5 79.5,436.3 79.7,434.8 79.9,434.2 80.1,432.7 80.3,432.1 80.5,430.8 80.8,430.6 81.0,428.9 81.2,428.5 81.5,427.0 81.7,426.7 82.0,425.3 82.2,424.5 82.4,423.1 82.6,422.8 82.8,421.3 83.0,420.9 83.2,419.4 83.3,419.1 83.5,417.6 83.7,417.0 83.9,415.4 84.1,414.9 84.2,413.8 84.4,413.4 84.5,412.0 84.7,411.6 84.8,410.2 85.0,409.8 85.1,408.5 85.3,407.9 85.4,406.6 85.6,406.3 85.7,404.9 85.9,404.5 86.0,403.3 86.2,402.6 86.4,401.2 86.6,400.9 86.8,399.3 87.0,398.7 87.2,397.4 87.4,396.9 87.6,395.7 87.8,397.0 88.0,397.3 88.2,398.9 88.5,399.2 88.7,400.7 88.9,401.4 89.0,402.7 89.1,402.9 89.2,404.5 89.3,404.9 89.4,406.4 89.6,406.8 89.7,408.6 89.8,408.7 89.9,410.4 90.0,410.6 90.1,412.4 90.2,412.9 90.3,414.1 90.4,414.5 90.6,415.9 90.7,416.2 90.8,417.7 90.9,417.9 91.1,419.3 91.2,419.8 91.3,421.1 91.4,421.5 91.6,422.9 91.7,423.3 91.8,424.5 91.9,425.0 92.0,426.5 92.1,426.9 92.2,428.5 92.3,428.7 92.4,430.2 92.5,430.4 92.6,432.0 92.7,432.2 92.8,433.9 92.9,434.2 93.0,435.8 93.1,435.9 93.2,437.4 93.3,437.7 93.4,439.2 93.5,439.6 93.6,441.0 93.7,441.7 94.2,440.9 94.7,439.5 95.1,439.3 95.6,437.9 95.8,437.1 96.0,435.6 96.2,435.3 96.4,433.8 96.5,433.4 96.7,431.9 96.9,431.4 97.1,429.9 97.3,429.6 97.5,428.3 97.6,427.7 97.7,426.3 97.8,425.7 97.9,424.4 98.0,424.0 98.1,422.4 98.2,422.2 98.3,420.7 98.4,420.5 98.5,418.7 98.5,418.4 98.6,417.1 98.7,416.7 98.8,415.2 98.9,414.9 99.0,413.2 99.1,413.0 99.2,411.4 99.3,411.4 99.4,409.6 99.5,409.1 99.7,407.7 99.9,407.5 100.1,405.9 100.2,405.7 100.4,403.9 100.6,403.7 100.8,402.4 101.0,403.5 101.2,404.0 101.4,405.6 101.7,406.1 101.9,407.6 102.1,407.8 102.3,409.1 102.4,409.6 102.5,411.3 102.6,411.7 102.7,413.0 102.8,413.4 102.9,414.8 103.0,415.3 103.1,416.7 103.2,417.0 103.4,418.4 103.5,418.7 103.6,420.4 103.7,420.8 103.8,422.2 103.9,422.4 104.0,424.0 104.1,424.4 104.2,425.8 104.3,426.4 104.4,427.6 104.5,427.8 104.5,429.5 104.6,429.8 104.7,431.4 104.8,431.5 104.9,433.0 104.9,433.5 105.0,434.9 105.1,435.2 105.2,436.7 105.3,436.9 105.3,438.5 105.4,438.7 105.5,440.0 105.5,440.6 105.6,442.3 105.6,442.5 105.6,444.3 105.7,444.7 105.7,446.1 105.7,446.7 105.8,448.2 105.8,448.8 106.0,450.0 106.2,450.3 106.4,452.0 106.6,452.4 106.8,454.1 107.0,454.6 107.1,455.7 107.2,456.1 107.3,457.7 107.4,458.1 107.5,459.5 107.5,459.8 107.6,461.4 107.7,461.7 107.8,463.2 107.9,463.6 108.0,464.8 108.1,465.5 108.2,466.8 108.3,467.1 108.3,468.8 108.4,469.1 108.5,470.4 108.6,470.8 108.7,472.4 108.8,472.5 108.8,474.0 108.9,474.3 109.0,475.8 109.1,476.5 109.2,477.9 109.3,478.1 109.3,479.5 109.4,479.8 109.5,481.5 109.6,481.7 109.7,483.4 109.7,483.7 109.8,485.2 109.9,485.7 110.0,487.2 110.0,487.5 110.1,489.0 110.2,489.6 110.3,490.9 110.4,491.2 110.5,492.8 110.5,493.0 110.6,494.6 110.7,495.1 110.8,496.6 110.9,497.0 111.0,498.3 111.1,498.7 111.1,500.4 111.2,500.7 111.3,502.3 111.4,502.8 111.6,503.9 111.8,504.4 111.9,505.8 112.1,506.2 112.3,507.5 112.5,508.1 112.6,509.6 112.8,510.1 113.0,511.5 113.2,511.7 113.5,513.2 113.7,513.5 113.9,515.0 114.1,515.2 114.4,516.8 114.6,517.4 114.9,518.5 115.2,518.7 115.5,520.2 115.8,520.7 116.1,521.8 116.4,522.4 116.7,523.8 116.9,523.9 117.2,525.5 117.5,526.1 117.7,527.4 117.8,527.7 118.0,529.4 118.2,529.7 118.3,531.4 118.5,531.8 118.7,533.2 118.8,533.5 119.0,534.9 119.3,533.6 119.6,533.6 119.8,532.0 120.1,531.7 120.4,530.5 121.6,529.8 121.7,530.4 121.9,532.0 122.0,532.5 122.2,533.8 122.3,534.1 122.5,535.9 122.6,536.4 123.1,537.7 123.6,538.0 124.1,539.3 124.4,538.1 124.8,537.8 125.2,536.3 125.5,535.6 125.8,534.4 126.0,534.1 126.3,532.4 126.6,532.2 126.9,530.8 127.1,530.2 127.4,529.1 127.7,530.4 128.0,530.9 128.2,532.6 128.5,533.4 128.7,534.6 129.0,535.2 129.2,536.6 129.4,536.9 129.7,538.7 129.9,539.3 130.4,538.6 130.9,537.1 131.4,536.4 132.1,535.0 132.8,534.2 133.5,533.2 134.3,533.0 135.0,532.0 135.7,532.9 136.5,533.3 137.2,534.2 137.5,533.1 137.7,532.5 138.0,531.1 138.3,530.7 138.6,529.2 138.8,528.8 139.1,527.6 139.7,528.6 140.3,528.9 140.9,529.8 141.1,528.7 141.3,528.2 141.5,526.9 141.7,526.5 141.8,524.9 142.0,524.8 142.2,523.4 142.4,523.0 142.6,521.8 142.8,521.3 143.1,519.6 143.3,519.3 143.6,517.7 143.8,517.4 144.0,516.1 144.3,515.6 144.5,514.5 145.1,515.7 145.8,516.3 146.4,517.4 147.0,516.4 147.6,516.3 148.2,515.2 148.6,516.5 149.1,516.5 149.5,518.1 150.0,518.4 150.4,519.6 151.4,519.2 152.3,519.6 152.7,518.4 153.2,518.0 153.6,516.4 154.0,515.9 154.3,516.4 154.6,518.2 154.9,518.3 155.2,519.6 155.3,520.4 155.5,521.7 155.6,522.2 155.8,523.8 155.9,524.0 156.0,525.7 156.2,525.8 156.3,527.4 156.5,527.9 156.6,529.1 156.8,528.0 156.9,527.6 157.1,526.0 157.3,525.9 157.4,524.3 157.6,524.0 157.8,522.4 157.9,522.3 158.1,521.0 158.7,520.7 159.3,519.2 159.9,518.8 160.9,518.8 162.0,519.6 162.7,518.5 163.5,518.5 164.2,517.4 164.6,518.5 164.9,518.9 165.3,520.4 165.7,521.0 166.1,522.2 166.6,522.5 167.0,524.0 167.4,524.7 167.7,524.0 168.0,522.6 168.4,522.5 168.7,521.0 169.0,520.7 169.3,519.6 170.4,519.4 171.5,518.8 171.9,518.1 172.2,516.8 172.6,516.5 173.0,515.2 173.7,514.9 174.5,513.3 175.2,513.0 175.6,511.7 176.0,511.4 176.3,510.1 176.7,509.7 177.1,508.6 177.4,508.1 177.8,506.5 178.1,506.3 178.5,504.7 178.8,504.2 179.7,503.2 180.6,502.8 180.8,501.4 181.0,501.2 181.2,499.5 181.4,499.1 181.6,497.7 181.8,496.9 182.1,495.7 182.4,495.0 182.6,493.6 182.9,493.0 183.2,491.8 183.7,493.0 184.2,493.5 184.7,494.7 186.1,495.5 186.6,496.8 187.1,497.2 187.6,498.4 187.9,498.8 188.3,500.4 188.6,500.8 189.0,502.2 189.3,502.8 189.8,503.9 190.2,504.3 190.7,505.9 191.2,506.4 192.1,507.4 193.1,507.9 193.4,507.2 193.7,505.7 194.0,505.1 194.3,503.4 194.6,502.8 194.8,501.6 195.0,501.4 195.2,499.9 195.4,499.5 195.6,498.2 195.8,497.6 196.0,496.4 196.2,495.9 196.4,494.8 196.7,496.0 196.9,496.5 197.2,498.1 197.4,498.6 197.7,500.0 198.0,498.8 198.3,498.3 198.5,496.6 198.8,496.3 199.1,495.0 199.2,494.4 199.4,492.7 199.5,492.3 199.7,490.8 199.8,490.4 199.9,489.0 200.1,488.6 200.2,486.8 200.4,486.6 200.5,485.3 200.7,484.7 200.8,483.2 201.0,482.8 201.1,481.2 201.3,481.1 201.4,479.6 201.6,479.4 201.7,477.7 201.9,477.1 202.3,475.8 202.7,475.3 203.1,473.8 203.5,472.9 203.7,471.8 203.8,471.5 204.0,470.0 204.1,469.7 204.3,468.1 204.4,467.7 204.6,466.2 204.7,465.9 204.9,464.7 205.1,464.2 205.3,462.5 205.5,462.1 205.7,460.4 205.9,460.0 206.1,458.5 206.3,457.8 206.9,457.0 207.6,456.5 208.0,457.3 208.3,459.2 208.7,459.9 209.2,459.2 209.8,457.8 210.1,457.1 210.5,455.7 210.8,455.1 211.2,455.9 211.7,457.2 211.9,457.8 212.0,459.5 212.2,459.8 212.4,461.2 212.6,461.5 212.8,463.1 212.9,463.6 213.1,464.7 213.2,465.3 213.3,467.0 213.4,467.2 213.5,469.0 213.6,469.2 213.8,470.8 213.9,471.3 214.0,472.8 214.1,473.0 214.2,474.3 214.3,474.8 214.4,476.5 214.5,476.9 214.6,478.4 214.7,478.9 214.8,480.2 215.0,480.8 215.1,482.3 215.2,482.5 215.3,484.0 215.4,484.6 215.5,486.0 215.6,486.7 215.8,487.8 215.9,488.1 216.1,489.7 216.2,490.2 216.4,491.5 216.5,491.8 216.7,493.4 216.8,493.6 217.0,494.9 217.4,495.4 217.9,497.0 218.3,497.6 219.4,499.0 220.4,498.3 221.1,499.2 221.8,499.7 222.0,499.2 222.2,497.5 222.4,497.4 222.5,495.9 222.7,495.5 222.9,494.2 223.1,493.5 223.2,492.3 223.4,491.8 223.5,490.3 223.7,490.0 223.8,488.5 223.9,488.1 224.1,486.5 224.2,486.2 224.4,484.5 224.5,483.9 224.7,482.6 224.8,482.3 225.0,480.8 225.1,480.6 225.3,479.0 225.4,478.8 225.6,477.3 225.7,476.9 225.9,475.7 226.1,475.0 226.4,473.6 226.6,473.2 226.8,471.7 227.1,471.4 227.3,470.2 227.6,469.7 227.9,468.1 228.3,467.8 228.6,466.8 229.3,467.7 230.0,468.1 230.2,469.3 230.4,469.7 230.6,471.3 230.8,471.6 231.0,472.9 231.2,473.8 231.4,475.4 231.6,475.6 231.7,477.3 231.9,477.9 232.1,479.1 232.5,479.7 233.0,481.4 233.4,481.9 233.9,483.2 234.3,483.4 234.8,484.6 235.2,485.1 235.6,486.6 236.0,487.0 236.4,488.0 236.6,488.7 236.7,490.2 236.9,490.8 237.0,492.3 237.2,492.6 237.3,494.2 237.5,494.9 237.7,496.0 237.8,496.3 238.0,497.9 238.1,498.2 238.3,499.6 238.4,500.1 238.6,501.7 238.7,502.0 238.9,503.1 239.1,503.8 239.2,505.2 239.4,505.7 239.5,507.0 239.7,507.5 239.8,508.8 240.0,509.2 240.1,510.8 240.3,511.4 240.5,512.6 240.8,512.8 241.0,514.5 241.2,514.8 241.5,516.3 241.7,516.9 243.0,516.9 243.5,515.6 243.9,515.4 244.4,514.1 244.8,513.5 245.1,512.1 245.5,511.8 245.8,510.7 246.0,512.0 246.2,512.5 246.4,514.0 246.5,514.6 246.7,516.3 246.9,516.9 247.0,518.2 247.1,518.4 247.2,520.0 247.3,520.1 247.4,521.8 247.5,522.0 247.6,523.7 247.7,523.8 247.8,525.1 248.0,525.7 248.2,527.4 248.4,527.9 248.6,529.5 248.8,529.7 249.0,531.3 249.2,532.0 250.6,531.3 250.9,530.0 251.1,529.7 251.4,528.4 251.6,528.2 251.9,526.6 252.1,526.4 252.4,525.1 252.7,526.4 253.1,526.9 253.4,528.5 253.7,529.2 253.9,530.4 254.1,530.7 254.2,532.3 254.4,532.5 254.6,534.0 254.8,534.7 255.1,534.2 255.4,532.7 255.7,532.5 256.0,531.3 256.3,530.5 256.6,529.0 256.9,528.6 257.2,527.2 257.7,528.7 258.1,529.0 258.6,530.3 259.6,531.3 260.1,530.6 260.6,529.0 261.1,528.2 261.5,527.1 262.0,526.9 262.4,525.7 262.6,525.2 262.7,523.7 262.9,523.3 263.0,521.7 263.2,521.1 263.3,519.7 263.5,519.3 263.6,517.8 263.7,517.3 263.9,515.6 264.0,515.0 264.2,513.7 264.5,513.4 264.7,511.7 265.0,511.2 265.2,509.9 266.0,511.1 266.8,511.9 267.6,512.7 268.3,512.9 268.7,514.3 269.1,514.6 269.4,516.3 269.8,517.0 270.3,518.3 270.9,518.4 271.4,520.1 271.9,520.6 272.6,520.5 273.4,519.6 274.1,519.0 274.7,517.5 275.4,517.0 276.1,516.0 276.8,515.5 277.5,514.5 278.0,515.9 278.5,517.0 278.6,518.3 278.7,518.4 278.8,520.1 278.9,520.3 279.1,521.8 279.2,522.1 279.3,523.8 279.4,524.1 279.5,525.2 279.9,525.8 280.3,527.3 280.7,527.7 281.1,528.8 281.9,527.4 282.6,526.7 283.2,525.4 283.9,524.7 284.1,523.5 284.2,523.2 284.4,521.6 284.6,521.1 284.8,519.7 284.9,519.3 285.1,518.0 285.5,517.3 285.8,515.8 286.2,515.0 286.9,514.0 287.7,513.4 288.6,512.6 289.5,512.1 290.8,512.9 291.3,514.1 291.8,514.2 292.3,515.5 293.1,515.9 293.8,517.0 294.6,517.7 295.4,519.0 295.9,519.8 296.4,521.1 297.9,521.1 299.5,520.6 300.2,520.8 301.0,521.6 301.8,520.6 302.0,519.9 302.1,518.1 302.3,518.0 302.5,516.5 304.1,516.5 305.6,516.0 306.5,515.7 307.3,514.5 308.0,515.4 308.6,516.0" fill="none" stroke="#5b93dc" stroke-width="0.90" stroke-linejoin="round" stroke-linecap="round" />
<polygon points="24.0,664.0 24.9,665.5 25.6,672.0 26.6,682.0 27.6,680.0 26.3,688.5 25.4,691.2 24.6,689.0" fill="#111"/>
<polyline points="25.4,690.5 25.2,689.1 26.3,688.0 25.6,686.5 26.7,685.4 26.5,684.0 27.0,682.8 26.7,681.4 27.7,680.3 27.6,679.0 28.2,681.0 28.1,679.6 28.8,678.3 28.5,676.8 29.0,675.5 28.9,674.2 29.9,673.1 29.7,671.8 30.6,670.7 30.6,669.4 31.0,668.2 30.8,666.9 31.5,665.7 31.1,664.4 31.8,663.3 31.8,662.0 32.4,660.8 31.9,659.5 32.7,658.4 32.3,657.1 32.8,655.9 32.4,654.5 33.2,653.3 32.6,651.9 33.5,650.6 32.9,649.3 33.6,648.0 33.2,646.6 33.7,645.3 33.6,644.0 34.1,642.7 33.3,641.3 34.2,640.1 33.8,638.7 34.5,637.5 33.9,636.1 34.3,634.8 34.1,633.5 35.0,632.5 34.6,631.2 35.0,630.0 34.9,628.5 35.7,627.2 35.8,625.7 36.5,624.6 36.4,623.2 37.0,622.0 36.9,620.6 38.0,619.5 38.1,618.2" fill="none" stroke="#1a1a1a" stroke-width="1.40" stroke-linejoin="round" stroke-linecap="round" />
<polyline points="38.1,618.2 39.0,611.0 40.3,591.4" fill="none" stroke="#3a3a3a" stroke-width="0.90" stroke-linejoin="round" stroke-linecap="round" />
<polyline points="40.3,591.4 40.3,591.2 40.4,594.1 40.4,592.8 40.5,595.7 40.5,594.5 40.6,596.9 40.6,596.2 40.7,598.8 40.7,597.4 40.8,600.6 40.8,599.6 40.8,601.7 40.9,601.1 40.9,603.6 41.0,602.6 41.0,605.1 41.1,604.6 41.1,607.0 41.2,606.0 41.2,608.3 41.3,608.0 41.3,610.1 41.4,609.5 41.4,611.0 41.5,610.7 41.5,613.6 41.6,612.8 41.6,615.1 41.7,614.2 41.8,617.2 41.8,615.5 41.9,618.2 41.9,617.2 42.0,620.0 42.0,619.1 42.1,620.8 42.2,619.4 42.4,619.5 42.5,617.1 42.7,618.2 42.8,615.0 43.0,616.1 43.1,614.5 43.4,616.6 43.8,615.4 44.1,618.4 44.4,618.1 44.5,618.3 44.7,616.0 44.8,616.9 44.9,614.0 45.1,614.7 45.2,612.9 45.3,613.3 45.5,611.2 45.6,611.0 45.7,610.5 45.8,613.2 45.9,612.2 46.0,615.2 46.1,614.5 46.2,617.1 46.3,615.9 46.4,618.2 46.5,617.1 46.6,619.6 46.7,619.9 46.9,619.9 47.1,617.4 47.4,617.7 47.6,615.2 47.8,616.1 48.0,614.5 48.3,615.7 48.6,615.2 48.9,617.8 49.1,616.7 49.4,619.4 49.7,619.0 49.9,620.9 50.2,619.4 50.4,622.0 50.6,620.9 50.8,624.2 51.0,623.0 51.3,625.3 51.5,625.2 52.0,626.7 52.4,625.4 52.8,628.0 53.3,627.9 53.8,629.9 54.2,628.4 54.6,630.9 55.1,630.6 55.3,630.9 55.5,627.8 55.7,629.1 55.9,626.8 56.1,627.5 56.3,624.6 56.5,626.3 56.7,623.1 56.9,623.4 57.3,621.7 57.8,622.6 58.2,619.7 58.6,619.9 58.9,617.9 59.2,619.5 59.5,616.5 59.8,617.8 60.1,615.5 60.4,615.4 60.6,613.7 60.9,614.6 61.1,612.0 61.3,613.5 61.5,610.9 61.8,611.9 62.0,609.0 62.2,609.2 62.7,607.9 63.1,608.8 63.5,606.6 64.0,606.5 64.6,604.9 65.2,606.6 65.8,604.7 66.2,606.4 66.7,605.8 67.1,608.2 67.5,608.3 67.8,608.0 68.1,605.7 68.4,605.6 68.6,605.3 68.7,607.7 68.9,606.9 69.1,609.9 69.2,609.0 69.4,611.3 69.5,610.4 69.7,613.3 69.9,611.9 70.0,614.6 70.2,614.5 70.7,614.4 71.1,611.8 71.5,613.1 72.0,611.0 72.4,611.1 72.7,608.4 73.1,609.6 73.4,607.6 73.8,607.4 74.0,607.2 74.1,609.6 74.2,608.7 74.4,612.0 74.5,611.0 74.7,613.2 74.8,612.2 75.0,614.8 75.1,614.1 75.3,616.9 75.4,615.1 75.6,617.2 75.9,617.1 76.2,619.6 76.4,618.5 76.7,621.3 77.0,619.9 77.3,621.7 77.9,621.2 78.5,623.7 79.1,623.4 79.4,625.5 79.6,623.7 79.9,626.8 80.1,625.6 80.4,628.5 80.6,627.0 80.9,628.8 81.4,627.0 81.8,628.5 82.2,626.0 82.7,626.1 83.6,625.3 84.5,626.2 85.0,626.1 85.4,628.9 85.8,627.3 86.3,629.2 86.7,628.9 87.1,631.8 87.5,631.5 87.8,631.4 88.0,628.4 88.3,629.6 88.5,627.3 88.8,627.0 89.8,627.7 89.9,629.6 90.0,628.9 90.1,631.3 90.2,630.2 90.3,633.2 90.4,631.5 90.5,634.2 90.6,634.5 90.9,636.6 91.2,635.1 91.5,638.4 91.8,638.3 92.8,637.5 93.0,637.1 93.2,639.8 93.5,639.3 93.7,642.0 93.9,642.1 95.1,641.3 95.3,641.4 95.6,643.8 95.8,642.8 96.1,646.1 96.3,645.8 96.8,645.9 97.4,644.3 97.7,646.3 98.0,645.7 98.3,647.6 98.6,648.1 98.7,648.2 98.9,645.3 99.0,646.5 99.2,643.4 99.3,644.4 99.5,642.2 99.6,642.1 99.9,639.9 100.2,640.8 100.5,637.9 100.8,638.3" fill="none" stroke="#2e2e2e" stroke-width="0.90" stroke-linejoin="round" stroke-linecap="round" />
<polyline points="100.8,638.3 101.5,638.5 102.3,639.8 102.8,640.2 103.3,642.4 103.8,642.8 104.3,644.1 104.8,644.2 105.2,646.1 105.7,646.6 106.2,648.1 106.8,648.1 107.4,649.7 107.9,650.4 108.1,651.7 108.3,651.7 108.5,653.6 108.7,653.8 108.8,655.6 109.0,655.5 109.2,657.3 109.4,657.9 109.7,659.2 110.0,659.4 110.3,661.0 110.6,661.0 110.9,662.5 111.1,663.1 111.3,665.0 111.5,665.0 111.6,667.2 111.8,666.8 112.0,668.5 112.1,668.8 112.2,670.8 112.3,670.8 112.5,672.7 112.6,672.9 112.7,674.4 112.8,674.5 112.9,676.0 113.7,674.5 114.4,674.5 114.9,675.2 115.3,677.0 115.8,676.9 116.2,678.3 117.0,678.5 117.7,680.4 118.5,680.6 119.5,681.6 120.5,681.3 120.7,682.5 120.9,682.8 121.1,684.4 121.3,684.5 121.5,685.8 122.0,686.1 122.5,688.2 123.0,688.9 124.5,689.6 125.0,688.3 125.5,688.3 126.0,686.6 127.0,687.4 128.0,687.4 128.9,687.3 129.8,686.6 130.9,687.5 132.1,687.4 132.2,686.7 132.3,684.9 132.4,685.0 132.5,683.3 132.7,683.0 132.8,681.4 132.9,681.5 133.0,679.6 133.1,679.1 133.8,677.7 134.6,677.5 134.8,675.9 135.1,676.0 135.3,674.0 135.6,674.5 135.8,672.5 136.1,672.4 136.3,670.2 136.6,670.0 136.9,668.5 137.3,668.7 137.6,666.7 137.9,667.3 138.2,665.3 138.6,665.4 138.9,664.0 139.7,663.8 140.4,662.5 140.5,662.0 140.7,660.3 140.8,660.1 140.9,658.0 141.1,658.4 141.2,656.1 141.4,656.2 141.5,654.3 141.6,654.3 141.8,652.3 141.9,651.9 142.1,650.2 142.2,650.6 142.3,648.4 142.5,648.6 142.7,646.8 142.8,646.9 142.9,644.8 143.1,644.3 143.6,644.4 144.1,646.5 144.6,646.6 144.9,646.4 145.2,644.3 145.5,644.3 145.8,642.7 146.1,642.7 146.4,641.3 147.0,640.9 147.6,639.3 148.1,639.8 148.7,638.3 149.2,638.0 149.8,636.4 150.3,636.5 150.9,635.3 151.7,634.9 152.4,633.3 153.2,633.0 153.8,631.6 154.3,631.8 154.9,630.1 155.5,630.0 156.5,629.9 157.5,630.5 159.1,630.5 159.4,632.2 159.8,632.0 160.1,634.1 160.4,634.6 160.5,634.1 160.6,632.3 160.8,632.6 160.9,630.2 161.0,630.5 161.1,628.5 161.2,628.6 161.4,627.0 161.5,626.8 161.6,625.5 161.7,624.9 161.9,623.0 162.0,623.4 162.1,621.4 162.3,621.2 162.4,619.8 163.0,621.1 163.5,621.1 164.1,622.2 164.9,622.3 165.7,623.9 166.1,622.4 166.6,622.3 167.0,620.3 167.4,619.8 168.2,618.8 169.0,618.9 169.2,617.4 169.4,617.5 169.6,615.7 169.8,615.9 170.0,613.6 170.2,613.9 170.4,611.9 170.6,611.5 171.4,611.4 172.3,612.4 173.9,613.2 174.1,612.9 174.2,610.9 174.3,611.0 174.5,609.0 174.7,609.3 174.8,607.2 174.9,607.4 175.1,605.8 175.3,605.5 175.5,603.3 175.8,603.5 176.0,601.6 176.2,601.4 176.4,600.0 176.7,599.5 177.0,597.8 177.2,597.6 177.5,595.6 177.8,595.7 178.1,594.2 178.3,593.8 178.5,591.8 178.8,592.0 179.0,589.7 179.2,589.8 179.4,588.5 180.5,588.5 180.6,586.9 180.7,587.3 180.8,585.2 180.9,585.2 181.1,583.1 181.2,583.2 181.3,581.5 181.4,581.1 181.5,579.5 181.7,579.9 181.8,577.9 181.9,577.9 182.1,575.9 182.2,576.3 182.3,574.2 182.4,574.3 182.6,572.2 182.7,572.0 183.2,570.9 183.8,570.6 184.3,569.5 185.3,570.0 186.3,569.5 186.5,571.0 186.7,570.9 186.9,572.9 187.1,573.6 187.4,575.0 187.7,575.0 188.0,577.1 188.3,577.8 188.7,577.3 189.2,575.1 189.6,574.5 189.9,573.2 190.2,573.0 190.6,570.9 190.9,571.2 191.2,569.5 191.5,569.2 191.9,567.1 192.2,567.1 192.6,565.4 193.9,566.2 194.0,564.8 194.0,565.0 194.1,562.8 194.2,562.9 194.2,561.1 194.3,561.3 194.3,559.1 194.4,559.5 194.5,557.4 194.5,557.3 194.6,555.3 194.7,555.4 194.7,553.5 194.8,553.5 194.8,551.6 194.9,551.4 195.2,550.0 195.6,549.9 195.9,548.1 196.3,549.8 196.6,549.9 197.0,551.4 197.1,550.0 197.3,549.9 197.4,548.1 197.5,548.3 197.7,546.6 197.8,546.5 197.9,544.6 198.1,544.5 198.2,543.2 198.3,542.7 198.5,540.8 198.6,540.4 198.8,538.4 198.9,538.8 199.1,537.0 199.2,536.6 199.3,534.7 199.4,534.6 199.6,532.7 199.7,532.4 199.8,531.0 200.0,530.4 200.1,528.8 200.3,528.5 200.4,526.8 200.6,526.5 200.7,524.7 200.9,524.9 201.0,522.8 201.2,522.3 201.3,520.7 201.3,521.0 201.4,519.0 201.5,519.0 201.6,517.2 201.6,517.3 201.7,515.4 201.8,515.3 201.8,513.5 201.9,513.6 202.0,511.8 202.1,512.0 202.1,510.2 202.2,509.8 202.3,508.0 202.4,508.3 202.4,506.4 202.5,505.9 202.8,504.4 203.2,503.8 203.4,504.3 203.6,506.3 203.9,506.2 204.1,508.2 204.3,508.6 204.4,509.9 204.6,509.9 204.7,511.8 204.9,511.9 205.0,514.1 205.1,513.7 205.3,515.6 205.4,516.0 205.6,517.8 205.7,518.2 206.0,518.0 206.4,516.2 206.8,516.2 207.1,514.8 208.7,514.1 209.1,512.7 209.6,513.0 210.0,510.9 210.4,510.7 210.9,511.4 211.5,512.7 211.6,513.3 211.7,515.1 211.8,515.2 211.9,516.9 212.1,516.9 212.2,518.9 212.3,519.2 212.4,521.1 212.5,520.7 212.6,522.3 212.7,522.7 212.8,524.5 212.9,524.7 212.9,526.4 213.0,526.2 213.1,528.1 213.2,528.4 213.3,530.0 213.4,530.3 213.5,532.0 213.6,532.0 213.6,533.6 213.7,533.7 213.8,535.9 213.9,536.1 214.0,537.5 214.0,537.6 214.1,539.1 214.2,539.4 214.3,541.1 214.3,541.1 214.4,543.1 214.5,542.7 214.5,544.8 214.6,544.7 214.7,546.7 214.7,546.3 214.8,548.1 214.9,548.0 215.0,550.2 215.0,550.0 215.1,551.4 215.3,551.8 215.5,553.7 215.7,553.7 215.9,555.6 216.0,555.5 216.2,557.3 216.4,557.3 216.6,559.4 216.8,559.6 217.0,561.0 217.3,560.8 217.5,563.0 217.7,562.9 217.9,564.9 218.2,564.7 218.4,566.2 218.5,566.7 218.7,568.3 218.8,568.2 218.9,570.1 219.1,570.2 219.2,572.1 219.3,571.9 219.4,573.8 219.6,573.8 219.7,575.8 219.8,575.7 220.0,577.6 220.1,577.8 220.3,579.3 220.5,578.9 220.6,580.9 220.8,580.9 221.0,582.7 221.2,582.7 221.3,584.8 221.5,584.4 221.7,586.0 221.9,586.3 222.0,588.2 222.2,588.3 222.4,590.1 222.6,590.0 222.7,592.1 222.9,592.6 223.0,594.0 223.2,593.9 223.3,595.7 223.5,595.6 223.6,597.5 223.8,597.4 223.9,599.4 224.1,599.6 224.2,600.8 224.5,601.3 224.7,603.5 225.0,604.1 225.8,604.0 226.7,602.5 227.4,602.1 228.1,600.6 228.8,600.0 229.4,598.7 230.0,598.4 230.5,598.8 231.1,600.4 231.6,600.8 232.3,601.8 233.0,601.6 233.7,602.5 234.1,602.8 234.4,604.6 234.8,604.8 235.2,606.0 235.3,606.4 235.4,608.7 235.6,608.7 235.7,610.7 235.8,611.3 236.7,612.1 237.5,612.1 238.0,611.7 238.6,610.1 239.1,609.6 239.3,609.9 239.6,612.2 239.8,612.0 240.1,613.8 240.3,614.0 240.6,615.7 240.8,616.2 241.1,617.8 241.4,617.5 241.8,619.6 242.1,619.8 242.4,621.2 243.2,619.7 244.1,619.5 245.1,619.4 246.2,620.4 246.5,619.1 246.8,619.1 247.1,616.9 247.3,617.0 247.6,615.3 247.9,615.5 248.2,613.8 248.7,615.1 249.3,614.9 249.8,616.2 250.0,616.5 250.2,618.7 250.4,618.2 250.6,620.2 250.7,620.4 250.9,622.3 251.1,622.4 251.3,624.2 251.5,624.5 251.8,626.2 252.2,626.3 252.5,628.2 252.8,628.6 252.9,628.0 253.1,626.4 253.2,626.2 253.4,624.5 253.5,624.4 253.6,622.4 253.8,622.7 253.9,621.2 254.0,621.0 254.2,618.6 254.3,619.0 254.4,617.2 254.6,616.8 254.7,615.1 254.8,615.4 255.0,613.2 255.1,612.9 255.8,613.1 256.4,614.6 256.6,614.9 256.8,616.9 257.0,617.1 257.2,618.8 257.5,618.5 257.7,620.5 257.9,620.5 258.1,622.0 259.3,621.9 260.5,622.8 261.1,623.3 261.6,624.8 262.2,625.3 262.6,624.6 263.0,623.1 263.5,622.8 263.9,621.1 264.3,620.4 264.7,620.9 265.1,622.8 265.5,623.1 265.9,624.6 266.3,625.3 266.7,626.7 267.1,626.6 267.6,628.2 268.0,627.9 268.4,629.8 268.8,630.2 269.6,631.7 270.4,631.5 271.2,632.7 272.0,633.0 272.9,634.3 273.7,634.4 274.4,634.2 275.2,632.3 275.9,631.9 276.2,632.3 276.5,634.4 276.9,634.2 277.2,636.4 277.5,636.8 277.9,638.2 278.3,638.3 278.7,640.2 279.1,640.9 279.8,642.5 280.4,641.9 281.1,643.4 282.0,643.6 282.8,645.1 283.2,645.5 283.6,647.7 284.0,647.8 284.4,649.2 285.2,649.5 286.1,650.8 286.5,649.4 286.9,649.4 287.3,647.9 287.7,647.5 289.4,647.5 289.8,648.7 290.2,648.7 290.6,650.3 291.0,650.8 291.4,650.4 291.9,648.7 292.3,649.0 292.7,647.5 293.2,647.1 293.6,645.2 294.1,645.4 294.6,644.2 295.3,645.4 296.1,644.9 296.8,645.9 297.3,646.0 297.9,648.0 298.4,648.4 298.8,649.8 299.2,650.0 299.7,651.8 300.1,652.5 300.5,653.6 300.9,653.6 301.3,655.7 301.7,655.8 302.1,656.9 302.5,656.9 303.0,658.7 303.4,659.1 303.6,660.6 303.7,660.6 303.9,662.4 304.0,662.4 304.2,664.4 304.3,664.5 304.5,665.7 304.8,666.4 305.0,667.9 305.3,668.3 305.5,670.1 305.8,670.6 306.0,670.2 306.3,668.3 306.5,668.5 306.8,666.1 307.0,666.2 307.3,664.6 307.5,664.0 307.8,662.4 308.0,662.6 308.3,660.3 308.5,660.5 308.8,659.1 309.3,659.0 309.9,656.8 310.4,656.6" fill="none" stroke="#3a3a3a" stroke-width="0.85" stroke-linejoin="round" stroke-linecap="round" />
<polyline points="333.5,126.0 334.1,127.4 334.2,128.7 334.4,128.9 334.5,130.5 334.6,130.8 334.7,132.3 334.9,132.7 335.0,134.2 335.1,134.4 335.2,136.2 335.4,136.5 335.5,137.7 336.0,136.6 336.5,136.2 337.0,134.8 337.5,134.3 338.2,135.1 338.9,136.4 339.6,136.7 340.3,137.7 340.9,136.6 341.5,136.1 342.1,135.0 342.4,134.2 342.7,132.7 343.1,132.4 343.4,130.9 343.7,130.2 344.0,128.9 344.4,128.7 344.7,126.9 345.1,126.6 345.4,125.4 345.5,124.7 345.7,123.2 345.8,122.8 345.9,121.4 346.1,120.8 346.2,119.4 346.4,119.1 346.5,117.8 346.6,117.1 346.6,115.8 346.7,115.5 346.7,113.9 346.8,113.7 346.9,112.0 346.9,111.8 347.0,110.3 347.0,110.0 347.1,108.4 347.1,108.0 347.2,106.9 347.2,106.2 347.3,104.9 347.3,104.5 347.3,102.8 347.3,102.6 347.4,101.1 347.4,100.9 347.4,99.4 347.4,99.1 347.5,97.6 347.5,97.2 347.5,95.6 347.5,95.3 347.6,93.9 347.6,93.6 347.6,92.2 347.6,91.6 347.7,90.2 347.7,89.9 347.7,88.5 347.7,88.0 347.8,86.7 347.8,86.4 347.8,84.8 347.8,84.6 347.9,82.9 347.9,82.4 348.0,81.1 348.0,80.8 348.1,79.2 348.1,79.1 348.2,77.5 348.3,77.1 348.3,75.4 348.4,75.2 348.4,73.6 348.5,73.3 348.5,71.7 348.6,71.6 348.7,70.0 348.7,69.6 348.8,68.2 348.8,67.8 348.9,66.1 349.0,65.8 349.0,64.4 349.1,64.0 349.1,62.3 349.2,61.8 349.3,60.5 349.3,60.2 349.4,58.7 349.5,58.4 349.5,56.8 349.6,56.4 349.6,54.8 349.7,54.7 349.8,53.0 349.8,52.7 349.9,51.3 350.0,51.0 350.0,49.3 350.1,48.9 350.2,47.4 350.2,47.2 350.3,45.7 350.3,45.3 350.4,43.7 350.5,43.3 350.5,41.9 350.6,41.2 350.7,40.1 350.7,39.5 350.8,38.1 350.8,37.9 350.9,36.1 350.9,35.9 350.9,34.4 351.0,34.0 351.1,32.6 351.1,32.0 351.1,30.6 351.2,30.4 351.2,28.6 351.3,28.3 351.4,26.8 351.4,26.6 351.4,25.1 351.5,24.6 351.6,23.1 351.6,22.9 351.6,21.2 351.7,20.6 351.8,19.4 351.9,19.0 351.9,17.5 352.0,17.4 352.1,15.6 352.2,15.4 352.3,13.8 352.4,13.5 352.4,12.2 352.5,11.7 352.6,10.2 352.7,9.6 352.9,8.2 353.1,8.1 353.3,6.5 353.4,5.9 353.6,4.4 353.8,4.0 354.0,2.7 354.2,4.1 354.4,4.3 354.6,6.1 354.8,6.3 355.0,7.9 355.2,8.3 355.4,9.6 355.5,10.2 355.6,11.8 355.6,12.0 355.7,13.5 355.8,13.9 355.9,15.5 356.0,15.6 356.1,17.3 356.1,17.6 356.2,19.2 356.3,19.3 356.4,20.6 356.4,21.1 356.5,22.8 356.5,23.1 356.6,24.7 356.6,25.0 356.7,26.7 356.8,26.9 356.8,28.5 356.8,28.7 356.9,30.3 356.9,30.6 357.0,32.2 357.1,32.6 357.1,34.0 357.1,34.2 357.2,35.8 357.2,36.3 357.3,37.7 357.4,38.1 357.4,39.7 357.4,40.1 357.5,41.2 357.6,41.8 357.6,43.5 357.6,43.6 357.7,45.1 357.8,45.7 357.8,47.2 357.9,47.3 357.9,49.1 357.9,49.3 358.0,50.8 358.1,51.1 358.1,52.6 358.2,53.0 358.2,54.6 358.2,54.9 358.3,56.6 358.4,56.9 358.4,58.3 358.5,58.6 358.5,60.3 358.6,60.6 358.6,61.8 358.6,62.3 358.7,64.0 358.7,64.5 358.8,65.7 358.8,66.3 358.8,67.7 358.9,68.0 358.9,69.6 359.0,69.8 359.0,71.4 359.1,71.8 359.1,73.2 359.1,73.5 359.2,75.1 359.2,75.4 359.3,77.1 359.3,77.4 359.3,79.0 359.4,79.4 359.4,80.9 359.5,81.1 359.5,82.4 359.6,83.2 359.6,84.7 359.7,85.0 359.7,86.5 359.8,86.9 359.8,88.1 359.9,88.6 359.9,90.2 360.0,90.3 360.0,91.9 360.1,92.3 360.1,93.9 360.2,94.1 360.2,95.8 360.3,96.0 360.3,97.4 360.4,97.7 360.4,99.3 360.5,100.0 360.6,101.1 360.7,101.4 360.8,103.2 360.9,103.5 361.0,105.0 361.1,105.1 361.1,106.8 361.2,107.1 361.3,108.5 361.4,108.9 361.5,110.3 361.6,111.0 361.7,112.3 361.7,112.7 361.8,114.1 361.9,114.4 362.0,115.8 362.0,116.2 362.1,117.7 362.2,118.1 362.3,119.4 362.3,119.7 362.4,121.5 362.5,121.8 362.6,123.2 362.6,123.6 362.7,124.7 362.8,125.4 363.0,126.8 363.1,127.0 363.2,128.6 363.4,129.1 363.5,130.5 363.6,130.9 363.8,132.2 363.9,132.7 364.0,134.3 364.2,134.5 364.3,135.7 364.5,136.2 364.8,137.8 365.0,138.1 365.2,139.5 365.5,139.9 365.7,141.4 365.9,141.8 366.2,143.2 366.4,143.9 367.1,144.9 367.7,145.0 368.4,146.0 368.8,146.7 369.2,147.9 369.7,148.2 370.1,149.4 370.7,149.8 371.3,151.1 371.9,151.5 372.5,151.0 373.0,149.6 373.6,149.1 373.9,149.9 374.3,151.5 374.6,151.8 375.0,153.4 375.3,154.2 375.7,155.4 376.1,155.9 376.5,157.7 376.9,158.3 377.2,157.6 377.5,156.3 377.8,155.9 378.1,154.4 378.4,154.1 378.7,152.8 379.4,154.2 380.1,154.9 380.4,156.2 380.7,156.4 381.0,158.0 381.3,158.2 381.6,159.7 381.9,160.4 382.3,161.6 382.7,162.3 383.1,163.8 383.5,164.5 384.2,165.8 384.9,166.6 385.2,165.9 385.5,164.5 385.7,164.1 386.0,162.3 386.3,161.7 387.4,160.4 387.6,161.6 387.8,162.0 388.0,163.4 388.3,163.6 388.5,165.2 388.7,165.9 389.4,166.8 390.1,167.2 390.8,166.8 391.5,165.9 392.3,167.1 393.1,167.9 394.5,167.9 394.6,166.7 394.8,166.3 394.9,164.9 395.1,164.4 395.2,163.0 395.3,162.6 395.5,161.1 395.6,160.4 395.7,159.1 395.8,158.9 395.9,157.3 396.0,157.0 396.1,155.3 396.2,154.9 396.4,153.3 396.5,153.1 396.6,151.5 396.7,151.0 396.8,149.6 396.9,149.3 397.0,148.0 397.1,147.4 397.2,145.9 397.3,145.5 397.4,144.0 397.5,143.9 397.6,142.1 397.7,141.9 397.9,140.3 398.0,140.1 398.1,138.6 398.2,138.3 398.3,136.7 398.4,136.4 398.5,135.0 398.6,134.3 398.7,133.0 398.8,132.7 399.0,131.3 399.1,131.0 399.2,129.4 399.3,129.1 399.4,127.6 399.5,127.4 399.6,125.9 399.8,125.6 399.9,124.0 400.0,123.7 400.1,121.9 400.2,121.7 400.4,120.2 400.5,119.8 400.6,118.4 400.7,117.8 400.9,116.5 401.0,116.4 401.2,114.7 401.3,114.4 401.5,112.9 401.6,112.5 401.8,111.0 401.9,110.8 402.1,109.6 402.5,110.8 403.0,111.1 403.4,112.4 403.9,112.9 404.3,114.4 404.8,115.1 405.8,116.5 406.0,117.3 406.1,118.6 406.3,119.0 406.4,120.7 406.6,121.0 406.7,122.8 406.9,123.3 407.0,124.5 407.2,125.0 407.3,126.2 407.5,126.7 407.6,128.2 407.8,128.6 407.9,130.0 408.1,130.5 408.2,131.6 408.3,132.4 408.5,133.9 408.6,134.1 408.8,135.7 408.9,136.2 409.0,137.5 409.2,137.9 409.3,139.6 409.5,139.9 409.6,141.2 409.7,141.8 409.8,143.2 410.0,143.6 410.1,145.1 410.2,145.5 410.3,146.8 410.4,147.1 410.5,148.9 410.6,149.1 410.8,150.5 410.9,151.0 411.0,152.1 411.2,152.7 411.4,154.5 411.6,154.6 411.7,156.3 411.9,156.8 412.1,158.2 412.3,159.0 412.5,160.3 412.8,160.5 413.0,162.0 413.2,162.5 413.5,163.9 413.7,164.5 414.2,165.6 414.6,166.0 415.1,167.2 415.6,165.9 416.0,165.7 416.5,164.5 416.8,165.9 417.1,166.2 417.5,167.9 417.8,168.6 418.1,169.7 418.4,170.3 418.6,171.8 418.9,172.3 419.2,173.4 420.2,172.8 421.3,172.7 422.2,171.9 423.1,171.4 424.2,170.9 425.4,170.7 426.1,171.5 426.8,172.7 427.2,173.4 427.7,174.8 428.1,175.5 428.5,176.7 428.8,177.0 429.1,178.5 429.5,178.9 430.6,178.5 431.6,177.5 432.3,178.4 432.9,178.6 433.6,179.6 434.6,179.9 435.7,181.0 436.5,179.8 437.3,179.3 437.9,179.9 438.5,181.6 439.1,182.3 439.8,183.3 440.5,183.3 441.2,184.4 441.9,183.3 442.5,183.2 443.2,182.3 443.6,181.7 443.9,180.1 444.2,179.4 444.6,178.2 444.8,177.4 445.1,176.2 445.3,175.7 445.5,174.3 445.8,173.9 446.0,172.7 446.4,172.1 446.9,170.7 447.3,170.0 447.6,168.7 448.0,168.3 448.4,166.7 448.7,165.9 449.0,164.5 449.2,164.2 449.5,162.7 449.7,162.4 450.0,160.8 450.2,160.2 450.5,159.0 451.3,160.3 452.1,161.1 452.5,162.3 453.0,162.5 453.4,164.0 453.8,164.5 454.1,165.8 454.5,166.2 454.9,167.9 455.2,168.6 455.6,169.7 455.9,170.1 456.3,171.4 456.6,170.2 457.0,170.1 457.3,168.4 457.6,167.9 458.7,167.2 458.9,168.5 459.2,168.7 459.4,170.3 459.6,170.6 459.9,172.1 460.1,172.7 460.6,174.0 461.2,174.2 461.7,175.5 462.8,175.2 463.8,175.5 464.7,176.0 465.6,177.0 467.2,176.2 467.7,177.3 468.1,177.6 468.6,178.9 469.3,179.3 470.0,180.7 470.7,181.0 471.6,181.5 472.5,181.6 474.1,182.3 475.1,182.2 476.2,183.0 476.8,183.4 477.3,184.8 477.9,185.1 478.7,185.9 479.6,184.6 480.6,184.1 481.5,184.1 482.4,184.7 483.0,185.2 483.7,186.5 484.3,187.2 485.2,187.9 486.1,187.8 487.1,187.7 488.0,187.2 488.9,188.1 489.8,188.4 490.8,188.1 491.7,187.2 492.3,186.6 492.9,185.3 493.5,184.7 494.8,184.1 495.0,183.4 495.2,181.9 495.3,181.3 495.5,179.9 495.7,179.1 495.9,177.8 496.0,177.6 496.1,176.1 496.3,175.9 496.5,174.1 496.6,173.6 497.1,174.3 497.5,175.4 497.6,176.0 497.6,177.6 497.7,177.7 497.8,179.1 498.2,177.8 498.7,177.3 500.3,177.9 501.2,177.8 502.2,177.3 502.8,178.5 503.4,179.1 503.7,180.4 504.0,180.6 504.3,182.2 504.6,182.8 505.2,183.8 505.9,184.2 506.5,185.3 507.3,185.7 508.1,186.5 508.7,185.3 509.2,185.1 509.8,184.1 510.6,185.1 511.4,185.3 511.8,184.7 512.3,183.4 512.7,182.8 513.6,182.0 514.5,181.6 515.1,182.1 515.8,183.5 516.4,184.1 517.0,185.5 517.6,186.0 518.2,187.2 519.2,187.8 520.1,189.0 521.0,189.1 521.9,189.6 522.8,190.0 523.8,190.9 524.7,189.6 525.6,189.0 526.5,188.2 527.5,187.8 528.4,188.0 529.3,189.0 530.2,189.1 531.2,189.6 532.1,189.0 533.0,189.0 534.0,189.2 534.9,190.2 535.8,190.2 536.7,190.9 538.2,191.5 538.5,190.9 538.8,189.1 539.2,188.9 539.5,187.3 539.8,186.5 540.8,185.4 541.7,184.7 542.6,183.8 543.5,183.5 544.5,182.7 545.4,182.8 546.3,183.5 547.2,184.7 548.2,184.6 549.1,185.3 550.0,185.6 550.9,186.5 551.8,187.2 552.8,188.4 553.7,187.4 554.6,187.2 555.4,187.7 556.2,188.9 556.9,187.8 557.5,187.4 558.2,186.4 559.2,186.9 560.3,187.1 561.3,187.9 562.3,187.8 563.3,188.4 564.4,188.5 565.5,188.6 566.5,187.8 567.5,188.3 568.5,188.5 569.5,189.0 570.6,189.2 571.3,188.9 572.0,187.8 572.8,186.9 573.6,185.7 574.5,186.3 575.4,186.4 576.1,185.7 576.8,184.4 576.9,183.8 577.0,182.3 577.1,182.0 577.2,180.4 577.4,180.0 577.5,178.5 577.6,178.1 577.7,176.8 577.8,176.2 577.8,174.5 577.9,174.2 578.0,172.8 578.0,172.5 578.1,171.0 578.2,170.4 578.2,168.9 578.3,168.7 578.4,167.1 578.5,166.9 578.5,165.2 578.6,164.7 578.7,163.4 578.7,162.9 578.8,161.7 578.9,160.9 578.9,159.6 579.0,159.3 579.1,157.7 579.1,157.4 579.2,155.8 579.3,155.5 579.3,153.9 579.4,153.5 579.5,151.9 579.6,151.7 579.6,150.1 579.7,149.6 579.8,148.1 579.8,147.7 579.9,146.6 580.0,145.9 580.1,144.5 580.2,144.1 580.3,142.5 580.5,142.3 580.6,140.8 580.7,140.6 580.8,139.0 580.9,138.4 581.2,136.8 581.6,135.9 581.9,136.7 582.2,138.1 582.4,138.4 582.7,139.8 582.8,140.3 582.9,142.1 582.9,142.3 583.0,143.7 583.1,144.0 583.2,145.6 583.2,145.9 583.3,147.5 583.4,147.9 583.5,149.2 583.5,149.5 583.6,150.8 583.7,151.4 583.7,153.0 583.8,153.2 583.9,154.7 583.9,155.1 584.0,156.6 584.1,156.9 584.1,158.4 584.2,158.8 584.3,160.3 584.3,160.4 584.4,162.0 584.5,162.5 584.5,163.8 584.6,164.5 584.7,165.7 584.8,166.1 584.9,167.7 585.0,168.0 585.2,169.5 585.3,170.1 585.4,171.5 585.5,171.8 585.6,173.6 585.7,174.1 585.9,175.3 586.1,175.6 586.2,177.1 586.4,177.5 586.6,179.0 586.8,179.6 587.2,180.8 587.7,181.0 588.1,182.3 589.0,182.8 589.8,183.7 590.3,184.4 590.9,185.7 591.4,186.4 591.6,185.8 591.9,184.3 592.1,183.9 592.3,182.3 592.6,182.0 592.8,180.9 593.2,180.3 593.7,179.0 594.1,178.5 594.6,177.5 595.6,178.1 596.6,178.2 597.7,178.2 598.7,177.5 599.2,178.7 599.8,179.0 600.3,180.5 600.8,180.9 601.8,181.8 602.8,182.3 603.8,183.2 604.9,183.7 605.9,183.5 606.9,183.0 608.0,183.9 609.0,184.4 609.5,183.7 609.9,182.3 610.4,181.6 610.7,182.2 610.9,184.0 611.2,184.0 611.4,185.7 611.7,186.4 612.2,185.9 612.6,184.2 613.1,183.7 613.6,182.5 614.0,182.1 614.5,180.9 614.9,182.3 615.3,182.6 615.7,184.5 616.1,185.1 617.0,185.6 617.9,185.7 619.0,185.2 620.0,184.4 620.6,183.8 621.3,182.3 621.8,183.6 622.2,183.7 622.7,185.1 623.3,185.9 624.0,187.4 624.6,188.1 624.8,187.5 625.0,185.9 625.2,185.9 625.5,184.3 625.7,183.9 625.9,182.8 626.0,182.2 626.1,180.6 626.3,180.4 626.4,178.7 626.5,178.3 626.6,176.6 626.7,176.3 626.8,174.8 627.0,174.5 627.1,173.1 627.2,172.3 627.3,171.0 627.4,170.7 627.6,169.3 627.7,168.7 627.8,167.1 627.9,166.8 628.0,165.2 628.1,164.8 628.3,163.3 628.4,163.1 628.5,161.8 628.7,161.1 628.8,159.5 629.0,159.0 629.1,157.6 629.3,157.0 629.5,155.7 629.6,155.2 629.8,153.9 630.0,153.4 630.1,151.7 630.3,151.4 630.5,149.9 630.6,149.6 630.8,148.5 631.2,147.8 631.6,146.6 631.7,148.0 631.9,148.2 632.0,149.9 632.1,150.2 632.3,151.8 632.4,152.6 632.5,153.8 632.6,154.0 632.7,155.7 632.8,155.9 632.9,157.4 633.0,157.9 633.2,159.2 633.3,159.8 633.4,161.0 633.5,161.5 633.6,162.9 633.7,163.4 633.8,164.5 634.0,165.2 634.2,166.8 634.4,167.1 634.5,168.5 634.7,169.0 634.9,170.4 635.1,171.0 635.5,172.3 636.0,172.8 636.4,174.3 636.8,175.0 637.6,175.9 638.4,176.3 639.7,176.9 640.4,177.5 641.0,178.9 641.5,177.6 642.1,177.5 642.6,176.3 643.5,175.6 644.3,174.3 645.6,175.0 646.2,173.7 646.9,173.0 647.5,171.8 648.2,171.0 648.4,171.8 648.7,173.2 648.9,173.8 649.1,175.0 649.5,175.6 649.8,176.9 650.2,177.6 651.5,178.2" fill="none" stroke="#3a3a3a" stroke-width="0.85" stroke-linejoin="round" stroke-linecap="round" />
<polyline points="334.1,185.1 336.2,193.3 338.0,202.2 339.3,193.3 340.3,187.8 341.7,196.1 342.6,199.5 343.7,189.2 345.1,176.0 346.5,158.0 347.8,141.2 349.2,127.4 350.6,113.7 352.0,104.1 353.2,92.0 354.5,81.0 355.5,92.0 356.1,100.0 357.4,113.7 359.1,127.4 360.5,141.2 361.8,154.9 362.9,168.0 364.3,178.2 365.7,187.8 367.0,197.4 368.4,204.3 370.5,206.4 372.5,211.2 374.2,206.4 376.0,209.1 378.0,213.2 379.4,216.6 380.8,222.8 382.8,216.6 384.6,219.4 386.9,222.1 388.7,225.6 390.6,230.4 391.7,224.9 393.1,218.7 394.8,216.6 396.9,216.0 398.6,205.7 400.7,200.9 402.7,198.1 404.8,197.4 406.1,200.2 407.5,205.0 409.6,209.1 411.6,215.3 413.4,220.8 415.1,220.1 417.0,223.2 418.9,227.8 420.9,231.1 422.9,234.4 424.5,238.4 425.5,241.0 426.8,239.7 428.1,241.6 429.5,243.0 431.4,241.0 432.7,243.6 433.7,246.2 435.4,242.3 437.3,244.3 439.3,245.6 441.3,248.2 443.2,250.2 445.2,248.2 447.2,245.6 449.2,245.6 450.7,243.6 452.1,241.6 453.4,245.6 455.1,246.9 457.0,247.6 459.0,250.8 460.7,253.5 462.3,254.8 464.3,258.7 465.6,252.8 466.5,249.1 468.2,249.5 469.5,254.8 470.8,259.4 472.2,264.0 473.9,260.7 475.4,259.4 476.8,260.0 478.1,262.0 479.4,261.4 480.7,259.4 482.0,252.2 483.3,252.8 484.7,255.4 486.6,255.4 488.6,256.8 490.5,258.7 492.5,260.7 494.5,261.4 495.8,262.7 497.1,264.0 498.4,261.4 500.1,263.3 502.0,263.7 503.9,263.7 506.6,266.4 508.5,263.7 510.5,262.4 512.5,263.7 514.5,266.4 517.1,267.7 519.4,269.0 521.7,266.4 523.7,264.4 525.4,262.4 526.9,265.0 528.9,264.4 531.5,265.0 533.5,266.4 535.5,267.7 537.4,268.3 539.4,267.7 541.4,265.7 543.1,262.4 544.4,265.7 545.7,267.0 547.3,265.0 549.3,264.4 551.2,267.7 552.6,261.8 553.6,254.5 554.5,257.8 555.4,261.8 556.5,260.4 558.5,259.8 560.4,261.1 562.4,263.1 564.4,262.4 566.4,261.8 568.3,261.8 570.3,261.1 572.3,260.4 573.8,261.1 574.9,259.1 576.2,252.6 577.5,244.7 578.8,236.8 580.4,230.5 581.7,236.8 583.4,244.7 585.1,252.6 586.2,256.3 587.9,260.7 590.1,258.5 592.3,262.1 594.5,258.5 596.7,257.0 598.9,256.3 600.3,258.5 602.5,256.3 604.7,257.7 606.6,255.1 608.4,261.4 610.5,258.5 612.7,257.0 614.9,256.3 616.8,254.8 618.6,256.0 620.8,255.1" fill="none" stroke="#ff4d4d" stroke-width="0.90" stroke-linejoin="round" stroke-linecap="round" />
<polyline points="333.4,244.1 335.5,244.8 337.5,245.5 339.3,240.0 341.0,237.9 342.6,237.2 343.7,233.1 344.8,224.9 345.8,211.2 347.1,193.3 348.5,181.0 349.9,171.4 350.8,164.0 352.6,157.6 354.4,153.5 356.1,156.3 357.4,168.6 358.8,186.5 360.2,204.3 361.8,220.8 363.7,232.0 365.3,242.0 366.9,250.0 368.5,258.0 370.0,264.0 371.5,268.5 372.6,270.5 374.2,271.2 375.3,275.3 376.3,280.1 377.2,277.3 378.3,275.3 379.7,278.0 381.8,280.8 383.8,284.9 385.9,288.3 387.7,292.4 389.3,296.5 391.0,297.9 393.1,295.9 394.8,292.4 396.4,286.9 398.2,282.8 400.3,278.0 402.3,267.7 404.4,264.3 406.0,261.6 407.1,260.5 408.5,262.9 409.9,267.0 411.5,269.1 413.3,270.5 414.7,275.3 416.5,284.9 418.1,289.0 420.2,293.8 422.2,297.2 424.3,300.0 425.7,302.7 427.0,307.5 428.8,308.2 430.5,306.1 431.8,305.2 433.5,307.5 435.9,310.0 437.8,313.9 439.4,317.2 441.1,323.1 443.1,324.2 445.1,322.5 447.0,326.4 449.0,325.8 451.0,322.1 453.0,325.8 454.9,327.1 456.9,324.5 458.9,327.1 461.2,331.0 463.5,325.1 465.4,326.4 467.4,329.1 469.4,333.6 471.4,335.0 473.3,331.0 474.9,334.3 476.6,335.0 478.6,333.6 480.5,333.6 482.5,335.6 484.5,337.6 486.5,336.3 489.1,337.6 491.1,336.9 493.0,337.6 495.3,338.5 498.1,340.2 500.2,336.8 502.5,338.5 504.7,337.6 506.8,335.9 509.1,336.3 511.7,337.2 513.4,337.9 514.7,341.2 516.3,339.9 518.2,341.2 520.2,340.5 521.5,336.6 522.2,332.6 523.9,329.8 525.2,328.5 526.6,321.2 527.9,315.3 529.2,312.0 530.8,313.4 532.3,316.6 533.7,314.7 534.7,313.4 536.0,319.9 537.3,326.5 539.3,330.4 541.3,333.1 543.2,334.4 545.2,331.8 547.6,330.4 549.8,329.1 551.8,329.1 553.8,326.5 555.5,325.2 557.0,327.2 559.4,329.1 561.0,325.2 563.0,323.2 564.9,325.2 567.3,327.8 569.5,326.5 571.5,325.8 573.5,325.2 575.2,320.6 576.8,315.3 578.3,309.4 579.6,304.8 581.4,306.1 582.7,310.7 583.6,317.3 584.6,322.6 585.9,326.5 587.9,327.8 589.9,329.1 591.9,330.4 593.8,332.4 595.3,333.8 597.0,331.5 598.9,330.2 600.9,331.5 602.9,330.5 604.9,331.5 606.8,330.0 608.1,331.5 610.1,330.0 612.1,328.2 614.1,326.3 616.0,327.6 618.0,329.6 619.3,324.3 620.6,321.0 621.9,324.3 623.2,325.6 624.6,327.6 625.5,323.0 626.5,318.4" fill="none" stroke="#9060d0" stroke-width="0.90" stroke-linejoin="round" stroke-linecap="round" />
<polyline points="333.8,300.4 335.8,298.5 337.7,292.7 339.6,285.0 341.5,275.4 343.5,267.7 345.1,257.8 347.1,241.3 349.2,224.9 351.3,211.2 352.6,205.4 354.0,205.4 355.4,207.0 356.8,212.5 358.1,224.9 359.3,234.0 360.5,242.0 361.9,253.3 363.2,262.9 364.6,271.2 366.2,278.0 368.0,283.5 369.8,286.2 372.1,287.6 373.5,293.1 374.9,297.9 376.7,298.6 377.5,300.0 378.1,304.9 378.8,309.9 379.6,314.2 380.4,318.8 381.8,321.0 383.3,323.1 384.8,324.7 385.8,323.1 386.7,321.3 388.0,327.8 389.2,332.4 390.7,329.0 392.3,326.2 393.2,325.9 394.1,330.2 395.4,335.2 396.3,330.9 397.5,324.7 398.8,320.4 400.3,318.2 402.2,318.4 403.7,318.2 405.2,317.2 406.5,319.8 407.7,324.7 409.3,330.2 410.5,327.2 411.5,325.3 412.7,329.6 413.9,334.3 415.2,338.9 416.6,336.9 417.5,335.0 418.8,338.2 420.1,340.5 422.1,341.3 424.1,343.5 426.0,343.5 428.0,342.8 430.0,340.5 431.3,340.9 432.9,342.8 434.6,345.5 436.3,346.1 437.6,354.7 439.2,358.6 440.7,362.6 442.4,366.5 444.2,369.8 445.7,369.1 447.0,371.8 448.1,374.4 449.7,371.1 451.6,371.8 453.6,372.8 455.6,373.1 457.3,375.0 459.5,377.0 461.5,377.7 463.5,379.0 465.4,380.3 467.4,381.6 468.7,382.3 470.7,379.6 472.7,378.3 474.0,380.3 475.9,382.9 477.9,381.6 479.9,382.3 481.9,383.6 483.8,382.3 485.8,380.9 487.8,380.9 489.7,381.6 491.1,383.6 492.4,388.8 493.7,384.9 495.0,383.2 496.6,388.5 498.1,386.5 499.9,387.2 501.8,387.8 503.8,389.1 505.8,390.4 507.7,390.4 509.7,392.4 511.7,392.8 513.6,393.7 515.6,392.8 517.6,393.1 519.6,392.4 521.5,392.4 523.5,389.8 525.5,387.2 527.4,386.5 529.4,388.5 531.4,387.2 532.7,387.2 534.4,383.9 536.0,382.6 537.3,383.9 538.9,381.2 540.6,378.6 542.6,376.6 544.5,377.3 546.5,378.6 548.5,380.6 550.2,383.2 551.8,379.9 553.3,377.3 555.0,378.0 557.0,376.6 559.0,376.0 561.0,373.4 562.3,371.4 563.6,368.8 565.5,369.4 567.5,370.1 569.5,370.7 571.0,368.1 572.2,365.5 573.6,369.1 574.9,368.6 576.1,367.1 577.2,362.5 578.4,359.4 580.0,357.4 581.4,358.9 582.8,360.9 584.3,364.5 585.3,369.6 586.3,373.7 587.9,376.8 589.4,379.9 591.0,381.9 592.5,382.9 594.5,383.4 596.8,383.9 598.4,385.0 599.6,383.4 601.2,382.7 602.7,382.1 604.2,381.9 605.8,381.4 607.3,380.4 608.6,379.3 610.4,377.8 611.9,376.8 613.4,376.3 615.0,376.3 616.5,376.3 618.0,375.8 619.6,374.7 621.1,374.2 622.6,375.3 624.2,373.2 625.7,372.2 627.2,371.7 628.8,369.6" fill="none" stroke="#5050cc" stroke-width="0.90" stroke-linejoin="round" stroke-linecap="round" />
<polyline points="342.3,417.2 344.2,417.9 346.3,424.0 347.5,417.2 348.3,409.6 349.1,400.6 349.8,390.8 351.2,375.4 353.1,361.9 355.0,355.2 356.9,360.0 358.8,371.5 360.8,385.0 361.5,392.0 362.6,399.1 364.2,409.6 365.7,420.2 367.2,429.2 368.7,438.3 370.2,447.4 371.7,454.9 373.2,464.7 374.7,466.2 375.9,459.4 377.0,454.9 378.5,459.4 380.0,463.2 382.0,464.7 383.8,467.0 385.3,470.0 387.1,473.0 389.1,473.8 391.3,480.6 393.1,487.4 395.1,479.1 397.1,470.0 398.9,460.9 401.1,457.9 403.4,454.2 405.7,449.6 407.2,450.4 408.7,456.4 409.7,460.9 411.2,458.7 412.5,455.7 414.0,450.4 415.5,446.6 416.8,446.2 417.9,448.0 419.0,459.2 420.2,470.7 421.5,482.3 423.2,488.0 424.8,485.6 426.5,483.1 428.4,480.6 429.7,478.6 431.1,481.4 432.2,485.6 433.9,483.9 435.0,492.1 436.3,502.0 438.0,506.9 439.6,511.1 440.0,512.7 442.0,516.0 443.9,512.0 446.3,504.8 447.6,513.4 449.2,516.0 450.8,516.6 452.5,515.3 453.8,520.6 455.1,523.9 456.8,525.8 458.4,523.2 460.4,527.2 462.3,533.1 464.3,529.8 466.3,527.8 468.2,529.1 470.2,529.1 472.2,525.8 473.9,528.5 475.5,531.8 476.8,533.7 478.8,529.8 480.7,527.2 481.8,530.4 482.7,540.3 484.7,538.3 486.6,537.0 488.0,533.1 489.7,527.8 491.2,523.2 492.3,516.0 493.2,508.1 495.2,510.1 497.2,512.0 498.5,517.3 499.8,525.2 501.1,533.1 503.1,541.6 504.4,537.7 505.7,537.0 507.7,538.3 509.6,540.3 511.6,544.2 513.3,541.0 514.9,532.4 516.2,527.8 517.5,525.8 518.8,527.8 520.4,531.1 521.5,533.5 523.1,532.8 524.3,525.4 525.6,511.9 526.8,502.0 528.0,495.8 529.5,491.9 530.5,497.0 531.7,503.2 533.3,504.4 534.8,502.6 536.7,501.4 538.5,499.5 539.8,496.4 541.0,498.3 542.2,502.6 543.5,509.4 544.7,515.6 545.9,520.5 547.2,515.6 548.1,512.5 549.4,519.3 550.2,523.0 551.9,519.3 553.3,516.8 554.8,515.6 556.4,518.0 557.7,522.3 558.5,525.4 559.8,521.7 561.0,519.3 562.6,521.1 563.8,514.3 565.1,508.1 566.3,502.6 567.9,505.1 569.4,507.5 570.9,510.0 572.5,514.9 573.3,509.4 574.3,500.7 575.6,492.1 577.0,484.7 578.6,479.1 580.5,477.0 581.7,480.4 583.0,487.2 584.2,495.8 585.4,502.0 586.5,504.6 587.6,510.4 588.6,515.5 590.1,512.6 592.3,511.9 594.5,511.2 596.7,511.6 598.9,511.2 600.3,511.6" fill="none" stroke="#5b93dc" stroke-width="0.90" stroke-linejoin="round" stroke-linecap="round" />
<polyline points="334.1,595.0 334.5,595.7 335.0,597.4 335.4,597.7 335.8,599.1 336.0,597.9 336.1,597.5 336.3,596.1 336.4,595.7 336.6,594.1 336.7,594.0 336.9,592.5 337.0,592.0 337.2,590.9 337.4,590.3 337.6,588.8 337.8,588.4 338.0,587.1 338.2,586.8 338.4,585.3 338.6,584.7 339.2,583.8 339.7,583.5 340.3,582.6 340.4,581.9 340.6,580.4 340.7,580.1 340.9,578.7 341.0,578.2 341.2,576.7 341.3,576.5 341.5,574.8 341.6,574.5 341.8,572.9 341.9,572.4 342.1,571.2 342.3,570.9 342.5,569.6 342.8,569.0 343.0,567.6 343.2,567.4 343.4,566.2 343.5,565.5 343.7,564.2 343.8,563.8 343.9,562.2 344.0,561.9 344.2,560.3 344.3,560.0 344.4,558.5 344.5,558.2 344.7,556.5 344.8,555.9 344.9,554.8 345.0,554.3 345.0,553.0 345.1,552.6 345.2,551.0 345.3,550.7 345.4,549.2 345.5,549.0 345.5,547.6 345.6,547.3 345.7,545.7 345.8,545.4 345.9,543.8 345.9,543.5 346.0,542.1 346.1,541.5 346.2,540.3 346.2,539.8 346.3,538.3 346.4,538.0 346.5,536.6 346.5,536.1 346.6,534.7 346.7,534.4 346.7,532.9 346.8,532.6 346.9,530.9 346.9,530.7 347.0,529.0 347.1,528.7 347.1,527.2 347.2,527.1 347.3,525.5 347.4,525.1 347.4,523.4 347.5,522.9 348.2,521.5 348.9,520.9 349.5,521.5 350.0,523.4 350.6,524.0 350.7,523.4 350.8,521.9 350.9,521.5 351.1,519.8 351.2,519.5 351.3,518.1 351.4,517.6 351.5,515.9 351.6,515.8 351.7,514.1 351.9,513.7 352.0,512.2 352.1,511.9 352.2,510.6 352.4,510.0 352.7,508.4 352.9,508.4 353.2,506.8 353.4,506.6 353.7,505.4 354.1,504.8 354.4,503.1 354.8,502.6 355.1,501.3 355.3,502.6 355.4,502.9 355.6,504.4 355.8,504.6 355.9,506.0 356.1,506.5 356.2,507.9 356.4,508.5 356.5,509.6 356.7,510.0 356.8,511.7 356.9,511.9 357.0,513.5 357.2,513.9 357.3,515.3 357.4,515.8 357.5,517.1 357.7,517.6 357.8,518.8 358.0,519.4 358.1,520.9 358.3,521.3 358.4,523.0 358.6,523.4 358.8,524.8 358.9,525.2 359.1,526.8 359.3,527.1 359.4,528.6 359.6,529.0 359.7,530.5 359.9,531.2 360.0,532.6 360.1,532.7 360.2,534.3 360.3,534.6 360.4,536.2 360.5,536.7 360.7,538.0 360.8,538.4 360.9,539.9 361.0,540.3 361.1,542.0 361.2,542.4 361.3,543.5 361.4,544.1 361.5,545.7 361.6,546.2 361.7,547.7 361.8,547.8 361.9,549.6 361.9,549.9 362.0,551.4 362.1,551.8 362.2,553.4 362.3,553.7 362.4,555.3 362.5,555.9 362.6,557.1 362.7,557.5 362.8,559.1 362.9,559.1 363.0,560.8 363.1,561.1 363.2,562.7 363.3,562.8 363.4,564.1 363.9,564.7 364.5,566.5 365.0,567.2 365.8,568.1 366.6,568.2 367.2,569.3 367.7,569.3 368.3,570.3 368.5,570.9 368.6,572.5 368.8,572.8 369.0,574.4 369.1,574.8 369.3,576.2 369.4,576.4 369.6,578.0 369.8,578.5 369.9,580.0 370.1,580.6 370.3,581.9 370.4,582.3 370.6,583.8 370.7,584.1 370.9,585.7 371.1,585.8 371.2,587.4 371.4,588.0 371.6,589.5 371.7,589.6 371.9,591.4 372.0,591.7 372.2,592.9 372.6,593.3 373.0,594.7 373.5,595.1 373.9,596.5 374.3,597.1 374.5,598.4 374.7,598.7 374.8,600.1 375.0,600.4 375.2,602.2 375.4,602.4 375.6,603.9 375.8,604.2 375.9,605.9 376.1,606.3 376.3,607.4 377.0,607.9 377.7,609.1 378.4,609.4 378.8,610.6 379.2,610.8 379.6,612.4 380.0,613.1 380.2,614.2 380.4,614.6 380.6,616.1 380.7,616.4 380.9,618.2 381.1,618.5 381.3,619.7 381.6,620.5 382.0,622.0 382.3,622.3 382.6,624.0 383.0,624.5 383.3,625.6 383.8,626.4 384.3,628.0 384.8,628.4 385.3,629.6 385.6,630.4 385.8,632.1 386.1,632.3 386.3,634.0 386.6,634.8 386.9,636.2 387.2,636.4 387.6,638.2 387.9,638.8 388.6,639.9 389.2,640.1 389.9,641.4 390.5,640.1 391.0,639.8 391.6,638.8 392.0,640.2 392.4,640.6 392.7,642.1 393.1,642.7 393.9,642.1 394.7,640.7 395.5,642.0 396.4,642.7 396.8,641.8 397.3,640.2 397.7,639.4 397.8,638.3 397.9,637.9 398.1,636.5 398.2,636.0 398.3,634.6 398.4,634.3 398.6,632.9 398.7,632.2 398.9,630.8 399.2,630.6 399.4,629.0 399.7,628.2 400.1,629.1 400.6,630.7 401.0,631.5 401.6,632.7 402.3,633.5 403.0,632.8 403.6,631.6 404.3,630.9 405.3,631.4 406.3,632.2 407.2,631.3 408.2,630.9 408.8,629.7 409.4,629.4 410.0,628.2 410.3,629.4 410.6,629.7 410.9,630.9 411.0,631.5 411.2,633.1 411.3,633.4 411.5,634.9 411.6,635.3 411.8,636.8 411.9,637.2 412.1,638.8 412.2,639.4 413.0,640.2 413.9,640.7 414.3,641.8 414.7,642.1 415.1,643.4 415.5,644.0 415.8,643.4 416.1,641.9 416.5,641.6 416.8,640.1 417.1,639.4 417.4,638.1 417.8,637.6 418.1,636.1 418.4,635.5 418.7,636.1 419.1,637.7 419.4,638.1 419.7,639.2 419.9,639.8 420.2,641.2 420.4,641.5 420.7,642.7 421.0,641.6 421.4,641.1 421.7,639.4 422.0,638.8 423.4,638.1 423.8,639.4 424.2,639.6 424.5,641.1 424.9,641.6 425.3,642.7 426.2,644.0 426.5,643.4 426.8,641.9 427.0,641.5 427.3,639.9 427.6,639.4 427.9,638.3 428.3,638.0 428.6,636.3 429.0,636.1 429.3,634.8 430.2,634.8 431.2,634.4 432.2,634.9 433.2,634.8 433.4,636.0 433.6,636.6 433.9,638.0 434.1,638.6 434.3,640.0 434.5,640.7 434.9,640.1 435.4,638.7 435.8,638.6 436.2,637.4 436.7,638.7 437.2,639.4 437.3,640.6 437.4,641.1 437.6,642.5 437.7,643.0 437.8,644.6 437.9,644.8 438.0,646.4 438.1,646.8 438.3,648.4 438.4,648.6 438.5,649.9 438.9,650.3 439.4,651.9 439.8,652.1 440.2,653.2 440.5,653.9 440.8,655.5 441.1,655.9 441.4,657.5 441.7,657.8 442.0,659.1 442.9,659.8 443.7,661.1 444.7,660.3 445.7,660.4 446.7,660.7 447.7,661.8 448.5,662.4 449.4,663.7 449.7,664.3 450.0,665.8 450.3,666.2 450.6,667.6 450.9,668.3 451.4,667.4 451.8,665.9 452.3,665.0 453.8,664.4 454.2,665.5 454.6,665.8 455.1,667.3 455.5,667.7 456.0,669.2 456.4,669.6 456.9,670.9 457.5,671.4 458.2,672.9 458.8,673.6 459.5,674.6 460.1,675.0 460.8,676.2 461.1,674.9 461.3,674.8 461.6,673.0 461.8,672.7 462.1,671.6 462.4,670.8 462.6,669.1 462.9,668.8 463.1,667.1 463.4,666.4 463.8,666.9 464.2,668.2 464.7,668.4 465.1,669.6 465.5,670.0 465.9,671.5 466.3,671.9 466.7,672.9 467.2,673.3 467.8,674.8 468.3,675.3 469.3,675.4 470.3,674.7 470.8,673.9 471.2,672.5 471.7,671.9 472.2,670.7 473.0,670.7 473.9,670.1 474.7,671.0 475.5,671.4 476.5,671.9 477.5,672.0 478.5,673.1 479.5,673.4 480.4,674.3 481.4,674.7 482.4,675.5 483.4,676.0 484.2,675.7 485.0,674.7 485.3,675.9 485.6,676.4 486.0,677.9 486.3,678.6 486.6,677.9 487.0,676.4 487.3,675.9 487.6,674.7 488.2,674.5 488.9,673.4 489.5,674.5 490.0,674.9 490.6,676.0 491.6,676.3 492.6,677.3 493.6,677.2 494.6,678.0 495.5,678.4 496.3,679.3 496.6,679.9 497.0,681.6 497.3,681.9 497.6,683.2 498.2,684.0 498.9,685.2 499.2,683.9 499.5,683.6 499.9,682.2 500.2,682.0 500.5,680.6 501.5,679.3 501.8,680.1 502.1,681.8 502.4,682.6 502.9,684.0 503.3,684.3 503.8,685.8 504.1,684.6 504.5,684.2 504.8,682.7 505.1,681.9 506.0,682.0 506.8,682.6 507.3,683.5 507.9,685.1 508.4,685.8 509.4,685.7 510.3,685.2 511.3,685.4 512.3,685.2 513.3,684.8 514.3,683.9 515.1,683.9 516.0,683.2 517.6,683.9 517.9,684.4 518.2,686.2 518.6,686.6 518.9,687.8 519.4,688.5 519.9,689.8 520.2,688.3 520.5,688.0 520.8,686.5 521.5,687.3 522.2,687.8 522.9,689.1 523.5,689.8 523.9,689.3 524.4,687.7 524.8,687.5 525.2,686.5 525.7,687.6 526.3,687.9 526.8,689.1 528.1,689.8 528.7,689.4 529.4,688.0 530.0,687.8 531.0,687.0 532.0,686.5 532.7,685.4 533.3,685.1 534.0,683.9 535.3,683.2 535.6,684.0 536.0,685.4 536.3,685.9 536.6,687.2 536.8,686.1 537.0,685.7 537.2,684.1 537.5,683.9 537.7,682.6 537.9,681.9 538.3,680.8 538.8,680.4 539.2,679.3 540.2,678.9 541.2,678.0 542.0,677.7 542.8,676.6 543.6,676.3 544.5,675.3 544.8,676.5 545.1,676.7 545.4,678.3 545.6,678.4 545.9,679.9 546.2,680.6 547.0,679.8 547.8,678.6 548.2,677.9 548.7,676.0 549.1,675.3 550.4,674.7 550.7,676.2 551.0,676.4 551.3,677.8 551.7,676.5 552.2,675.9 552.6,674.5 552.8,673.8 553.0,672.2 553.2,671.7 553.5,670.3 553.7,669.8 553.9,668.6 555.0,667.3 555.3,668.1 555.6,669.7 555.9,670.6 556.3,670.0 556.8,668.6 557.2,668.0 557.9,668.3 558.5,669.5 559.2,669.9 559.9,669.2 560.5,667.7 561.2,667.3 561.7,666.2 562.2,666.0 562.6,664.4 563.1,664.0 564.1,663.0 565.1,662.7 565.8,663.1 566.4,664.0 566.7,662.8 567.0,662.4 567.2,661.1 567.5,660.9 567.8,659.5 568.1,658.8 568.5,659.5 569.0,661.2 569.4,662.0 569.9,663.3 570.4,664.0 570.7,663.3 571.0,661.8 571.4,661.4 571.7,660.1 573.0,660.7 573.7,661.4 574.3,662.7 575.0,663.4 575.5,662.7 576.0,661.0 576.4,660.7 576.9,659.4 578.6,659.4 578.9,658.0 579.2,657.7 579.4,656.4 579.7,656.0 580.0,654.8 580.3,654.2 580.5,652.5 580.8,652.3 581.0,650.7 581.3,650.2 582.0,650.8 582.6,652.2 582.9,652.8 583.1,654.6 583.4,655.0 583.6,656.8 583.9,657.4 584.0,658.7 584.2,659.2 584.3,660.6 584.5,661.1 584.6,662.8 584.8,663.4 585.0,664.9 585.2,665.1 585.3,666.7 585.5,667.2 585.7,668.6 586.1,669.4 586.4,670.9 586.8,671.4 587.1,672.6 587.7,671.5 588.2,671.1 588.8,669.9 589.0,671.0 589.2,671.2 589.5,672.9 589.7,673.3 589.9,674.6 590.1,675.2 590.5,676.6 591.0,677.2 591.4,678.5 592.2,678.9 593.1,679.8 593.9,678.8 594.7,678.5 595.0,679.3 595.4,680.9 595.7,681.1 596.0,682.4 596.2,683.2 596.5,684.7 596.8,685.1 597.0,686.4 597.2,685.1 597.5,684.9 597.7,683.4 597.9,683.2 598.2,681.6 598.4,681.1 598.9,679.8 599.4,679.8 599.9,678.5 601.5,678.5 601.9,679.2 602.4,680.5 602.8,680.6 603.2,681.8 603.8,680.5 604.3,680.3 604.9,679.1 605.8,678.6 606.8,677.2 607.6,677.0 608.5,676.5 609.5,677.5 610.4,677.8 610.9,677.2 611.5,675.7 612.0,675.2 613.0,674.2 614.1,673.9 615.0,673.9 616.0,674.5 616.9,675.3 617.7,676.5 618.4,676.7 619.0,677.8 619.3,676.6 619.6,676.1 620.0,674.5 620.3,673.9 620.5,672.6 620.7,672.3 621.0,670.8 621.2,670.6 621.4,669.2 621.6,668.6 622.0,667.2 622.5,666.6 622.9,665.3 623.1,666.5 623.3,666.7 623.5,668.3 623.8,668.6 624.0,670.0 624.2,670.6 624.9,672.0 625.5,672.6 626.1,672.1 626.7,670.6 627.3,669.9 627.8,668.7 628.3,668.5 628.8,667.3 629.5,666.7 630.1,665.4 630.8,664.7 632.1,665.3 632.5,666.6 633.0,667.1 633.4,668.6 633.8,669.4 634.2,671.0 634.7,671.3 635.1,672.6 635.6,673.3 636.2,674.6 636.7,675.2 637.5,676.0 638.3,676.5 639.3,677.3 640.3,677.3 641.0,677.1 641.6,675.8 642.3,675.3 643.3,675.7 644.3,676.6 644.7,675.1 645.2,674.8 645.6,673.4 646.0,672.7 646.5,671.2 646.9,670.7 647.3,671.6 647.8,673.1 648.2,674.0 648.6,675.1 649.1,675.3 649.5,676.6 649.8,675.3 650.0,675.1 650.3,673.5 650.5,673.3 650.8,672.0 651.8,672.1 652.8,671.4" fill="none" stroke="#3a3a3a" stroke-width="0.85" stroke-linejoin="round" stroke-linecap="round" />
<text x="16.5" y="707.3" font-family="'Liberation Sans', sans-serif" font-size="8.70" fill="#111" font-weight="normal" text-anchor="middle" textLength="4.5" lengthAdjust="spacingAndGlyphs">0</text>
<text x="89.4" y="707.3" font-family="'Liberation Sans', sans-serif" font-size="8.70" fill="#111" font-weight="normal" text-anchor="middle" textLength="13.6" lengthAdjust="spacingAndGlyphs">250</text>
<text x="162.3" y="707.3" font-family="'Liberation Sans', sans-serif" font-size="8.70" fill="#111" font-weight="normal" text-anchor="middle" textLength="13.6" lengthAdjust="spacingAndGlyphs">500</text>
<text x="234.6" y="707.3" font-family="'Liberation Sans', sans-serif" font-size="8.70" fill="#111" font-weight="normal" text-anchor="middle" textLength="13.6" lengthAdjust="spacingAndGlyphs">750</text>
<text x="307.6" y="707.3" font-family="'Liberation Sans', sans-serif" font-size="8.70" fill="#111" font-weight="normal" text-anchor="middle" textLength="18.2" lengthAdjust="spacingAndGlyphs">1000</text>
<text x="338.4" y="709.7" font-family="'Liberation Sans', sans-serif" font-size="8.70" fill="#111" font-weight="normal" text-anchor="middle" textLength="13.8" lengthAdjust="spacingAndGlyphs">500</text>
<text x="377.5" y="709.7" font-family="'Liberation Sans', sans-serif" font-size="8.70" fill="#111" font-weight="normal" text-anchor="middle" textLength="18.4" lengthAdjust="spacingAndGlyphs">1000</text>
<text x="417.2" y="709.7" font-family="'Liberation Sans', sans-serif" font-size="8.70" fill="#111" font-weight="normal" text-anchor="middle" textLength="18.4" lengthAdjust="spacingAndGlyphs">1500</text>
<text x="456.4" y="709.7" font-family="'Liberation Sans', sans-serif" font-size="8.70" fill="#111" font-weight="normal" text-anchor="middle" textLength="18.4" lengthAdjust="spacingAndGlyphs">2000</text>
<text x="496.3" y="709.7" font-family="'Liberation Sans', sans-serif" font-size="8.70" fill="#111" font-weight="normal" text-anchor="middle" textLength="18.4" lengthAdjust="spacingAndGlyphs">2500</text>
<text x="536.3" y="709.7" font-family="'Liberation Sans', sans-serif" font-size="8.70" fill="#111" font-weight="normal" text-anchor="middle" textLength="18.4" lengthAdjust="spacingAndGlyphs">3000</text>
<text x="575.6" y="709.7" font-family="'Liberation Sans', sans-serif" font-size="8.70" fill="#111" font-weight="normal" text-anchor="middle" textLength="18.4" lengthAdjust="spacingAndGlyphs">3500</text>
<text x="615.6" y="709.7" font-family="'Liberation Sans', sans-serif" font-size="8.70" fill="#111" font-weight="normal" text-anchor="middle" textLength="18.4" lengthAdjust="spacingAndGlyphs">4000</text>
<text x="127.0" y="719.0" font-family="'Liberation Sans', sans-serif" font-size="9.30" fill="#111" font-weight="normal" text-anchor="start" >wavenumber (cm<tspan font-size="5.6" dy="-3.2">-1</tspan><tspan dy="3.2">)</tspan></text>
<text x="458.8" y="726.0" font-family="'Liberation Sans', sans-serif" font-size="9.30" fill="#111" font-weight="normal" text-anchor="start" >wavenumber (cm<tspan font-size="5.6" dy="-3.2">-1</tspan><tspan dy="3.2">)</tspan></text>
<text transform="translate(6.7,383.2) rotate(-90)" font-family="'Liberation Sans', sans-serif" font-size="9.20" fill="#111" >Intensity (a.u)</text>
<text transform="translate(325.2,382.4) rotate(-90)" font-family="'Liberation Sans', sans-serif" font-size="9.20" fill="#111" >Intensity (a.u)</text>
<text x="1.7" y="8.9" font-family="'Liberation Sans', sans-serif" font-size="11.80" fill="#000" font-weight="bold" text-anchor="start" >A</text>
<text x="321.9" y="8.7" font-family="'Liberation Sans', sans-serif" font-size="11.60" fill="#000" font-weight="bold" text-anchor="start" >B</text>
<text transform="translate(193.9,59.3) rotate(-90)" font-family="'Liberation Sans', sans-serif" font-size="8.40" fill="#111" >OH<tspan font-size="5.4" dy="1.8">lb</tspan></text>
<text transform="translate(119.8,164.2) rotate(-90)" font-family="'Liberation Sans', sans-serif" font-size="8.40" fill="#111" >ν(Ca-OH)</text>
<text transform="translate(150.2,172.8) rotate(-90)" font-family="'Liberation Sans', sans-serif" font-size="8.40" fill="#111" >ν<tspan font-size="5.6" dy="1.6">2</tspan><tspan dy="-1.6">(H PO<tspan font-size="5.6" dy="1.6">4</tspan><tspan dy="-1.6">/PO<tspan font-size="5.6" dy="1.6">4</tspan><tspan dy="-1.6">)</tspan></tspan></tspan></text>
<text transform="translate(185.5,153.2) rotate(-90)" font-family="'Liberation Sans', sans-serif" font-size="8.40" fill="#111" >ν<tspan font-size="5.6" dy="1.6">4</tspan><tspan dy="-1.6">(PO<tspan font-size="5.6" dy="1.6">4</tspan><tspan dy="-1.6">)</tspan></tspan></text>
<text transform="translate(237.3,167.4) rotate(-90)" font-family="'Liberation Sans', sans-serif" font-size="8.40" fill="#111" >ν<tspan font-size="5.6" dy="1.6">3</tspan><tspan dy="-1.6">(CO<tspan font-size="5.6" dy="1.6">3</tspan><tspan dy="-1.6">)</tspan></tspan></text>
<text transform="translate(300.9,167.6) rotate(-90)" font-family="'Liberation Sans', sans-serif" font-size="8.40" fill="#111" >ν<tspan font-size="5.6" dy="1.6">1</tspan><tspan dy="-1.6">(PO<tspan font-size="5.6" dy="1.6">4</tspan><tspan dy="-1.6">)</tspan></tspan></text>
<text transform="translate(93.4,622.7) rotate(-90)" font-family="'Liberation Sans', sans-serif" font-size="8.40" fill="#111" >τ(CH<tspan font-size="5.6" dy="1.6">3</tspan><tspan dy="-1.6">)</tspan></text>
<text x="56.3" y="190.6" font-family="'Liberation Sans', sans-serif" font-size="8.40" fill="#111" font-weight="normal" text-anchor="start" >ν(Ca-PO<tspan font-size="5.6" dy="1.6">4</tspan><tspan dy="-1.6">)</tspan></text>
<text transform="translate(367.5,39.3) rotate(-90)" font-family="'Liberation Sans', sans-serif" font-size="8.40" fill="#111" >OH<tspan font-size="5.4" dy="1.8">lb</tspan></text>
<text transform="translate(402.9,106.3) rotate(-90)" font-family="'Liberation Sans', sans-serif" font-size="8.40" fill="#111" >1<tspan font-size="4.6" dy="-3">st</tspan><tspan dy="3"> overtone</tspan></text>
<text transform="translate(411.9,104.4) rotate(-90)" font-family="'Liberation Sans', sans-serif" font-size="8.40" fill="#111" >OH<tspan font-size="5.4" dy="1.8">lb</tspan></text>
<text transform="translate(452.4,155.1) rotate(-90)" font-family="'Liberation Sans', sans-serif" font-size="8.40" fill="#111" >2<tspan font-size="4.6" dy="-3">nd</tspan><tspan dy="3"> overtone</tspan></text>
<text transform="translate(461.3,153.0) rotate(-90)" font-family="'Liberation Sans', sans-serif" font-size="8.40" fill="#111" >OH<tspan font-size="5.4" dy="1.8">lb</tspan></text>
<text transform="translate(498.3,169.5) rotate(-90)" font-family="'Liberation Sans', sans-serif" font-size="8.40" fill="#111" >3<tspan font-size="4.6" dy="-3">rd</tspan><tspan dy="3"> overtone</tspan></text>
<text transform="translate(507.2,167.0) rotate(-90)" font-family="'Liberation Sans', sans-serif" font-size="8.40" fill="#111" >OH<tspan font-size="5.4" dy="1.8">lb</tspan></text>
<text transform="translate(585.4,132.4) rotate(-90)" font-family="'Liberation Sans', sans-serif" font-size="8.40" fill="#111" >ν(OH)</text>
<text transform="translate(624.5,169.5) rotate(-90)" font-family="'Liberation Sans', sans-serif" font-size="8.40" fill="#111" textLength="46.3" lengthAdjust="spacingAndGlyphs">OH<tspan font-size="5.4" dy="1.8">lb</tspan><tspan dy="-1.8">+ν(OH)</tspan></text>
<text transform="translate(535.2,307.0) rotate(-90)" font-family="'Liberation Sans', sans-serif" font-size="8.40" fill="#111" >ν(CH)</text>
<text transform="translate(414.2,443.0) rotate(-90)" font-family="'Liberation Sans', sans-serif" font-size="8.40" fill="#111" >δ(CH<tspan font-size="5.6" dy="1.6">2</tspan><tspan dy="-1.6">)</tspan></text>
<text transform="translate(435.5,475.1) rotate(-90)" font-family="'Liberation Sans', sans-serif" font-size="8.40" fill="#111" >Amide I</text>
<text transform="translate(539.2,490.4) rotate(-90)" font-family="'Liberation Sans', sans-serif" font-size="8.40" fill="#111" >ν(CH)</text>
<text x="614.4" y="201.3" font-family="'Liberation Sans', sans-serif" font-size="9.80" fill="#111" font-weight="bold" text-anchor="start" textLength="69.6" lengthAdjust="spacingAndGlyphs">Femur/1000 °C</text>
<text x="601.6" y="274.3" font-family="'Liberation Sans', sans-serif" font-size="9.80" fill="#ff2020" font-weight="bold" text-anchor="start" textLength="46.8" lengthAdjust="spacingAndGlyphs">HO5/skull</text>
<text x="601.6" y="347.1" font-family="'Liberation Sans', sans-serif" font-size="9.80" fill="#6b2fa8" font-weight="bold" text-anchor="start" textLength="81.2" lengthAdjust="spacingAndGlyphs">HO4/long bone 2</text>
<text x="601.6" y="398.3" font-family="'Liberation Sans', sans-serif" font-size="9.80" fill="#2a22b8" font-weight="bold" text-anchor="start" textLength="80.8" lengthAdjust="spacingAndGlyphs">HO3/long bone 1</text>
<text x="601.6" y="526.2" font-family="'Liberation Sans', sans-serif" font-size="9.80" fill="#3d7cc9" font-weight="bold" text-anchor="start" textLength="68.5" lengthAdjust="spacingAndGlyphs">HO1/phalange</text>
<text x="602.6" y="656.9" font-family="'Liberation Sans', sans-serif" font-size="9.80" fill="#111" font-weight="bold" text-anchor="start" textLength="64.3" lengthAdjust="spacingAndGlyphs">Femur/600 °C</text>
</svg>
</body></html>
